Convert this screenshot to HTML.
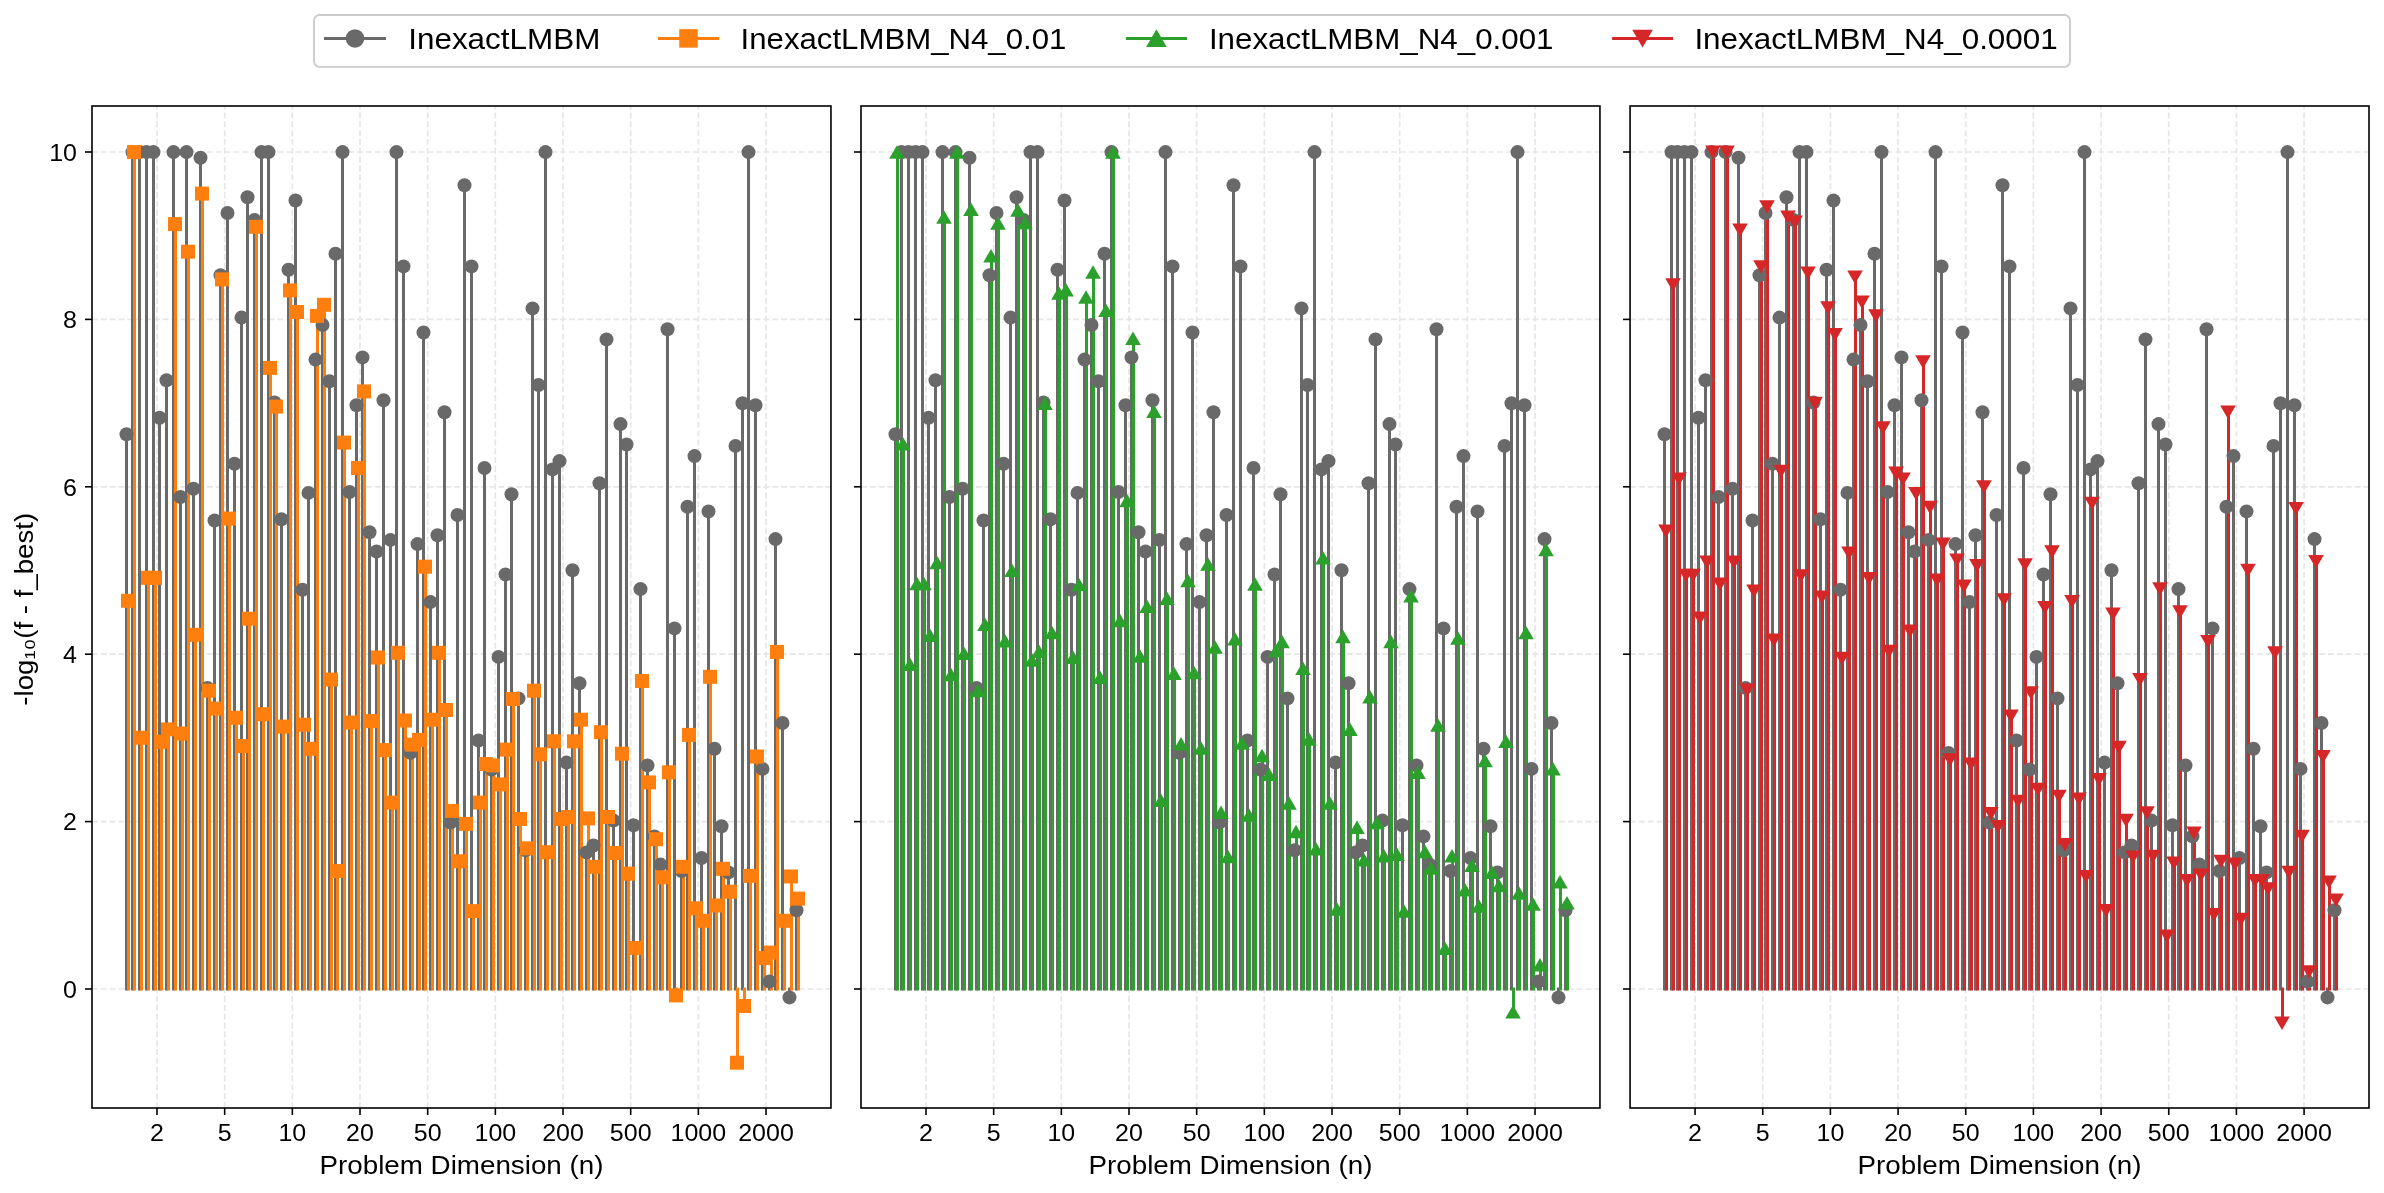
<!DOCTYPE html><html><head><meta charset="utf-8"><style>html,body{margin:0;padding:0;background:#fff;}svg{display:block;will-change:transform;}</style></head><body><svg width="2384" height="1193" viewBox="0 0 2384 1193">
<rect width="2384" height="1193" fill="#ffffff"/>
<clipPath id="c1"><rect x="92.00" y="106.00" width="738.95" height="1002.00"/></clipPath>
<g clip-path="url(#c1)">
<line x1="157.00" y1="1108.00" x2="157.00" y2="106.00" stroke="#e6e6e6" stroke-width="1.7" stroke-dasharray="5.95 2.885"/>
<line x1="224.67" y1="1108.00" x2="224.67" y2="106.00" stroke="#e6e6e6" stroke-width="1.7" stroke-dasharray="5.95 2.885"/>
<line x1="292.34" y1="1108.00" x2="292.34" y2="106.00" stroke="#e6e6e6" stroke-width="1.7" stroke-dasharray="5.95 2.885"/>
<line x1="360.01" y1="1108.00" x2="360.01" y2="106.00" stroke="#e6e6e6" stroke-width="1.7" stroke-dasharray="5.95 2.885"/>
<line x1="427.68" y1="1108.00" x2="427.68" y2="106.00" stroke="#e6e6e6" stroke-width="1.7" stroke-dasharray="5.95 2.885"/>
<line x1="495.35" y1="1108.00" x2="495.35" y2="106.00" stroke="#e6e6e6" stroke-width="1.7" stroke-dasharray="5.95 2.885"/>
<line x1="563.02" y1="1108.00" x2="563.02" y2="106.00" stroke="#e6e6e6" stroke-width="1.7" stroke-dasharray="5.95 2.885"/>
<line x1="630.69" y1="1108.00" x2="630.69" y2="106.00" stroke="#e6e6e6" stroke-width="1.7" stroke-dasharray="5.95 2.885"/>
<line x1="698.36" y1="1108.00" x2="698.36" y2="106.00" stroke="#e6e6e6" stroke-width="1.7" stroke-dasharray="5.95 2.885"/>
<line x1="766.03" y1="1108.00" x2="766.03" y2="106.00" stroke="#e6e6e6" stroke-width="1.7" stroke-dasharray="5.95 2.885"/>
<line x1="92.00" y1="989.00" x2="830.95" y2="989.00" stroke="#e6e6e6" stroke-width="1.7" stroke-dasharray="5.95 2.885"/>
<line x1="92.00" y1="821.60" x2="830.95" y2="821.60" stroke="#e6e6e6" stroke-width="1.7" stroke-dasharray="5.95 2.885"/>
<line x1="92.00" y1="654.20" x2="830.95" y2="654.20" stroke="#e6e6e6" stroke-width="1.7" stroke-dasharray="5.95 2.885"/>
<line x1="92.00" y1="486.80" x2="830.95" y2="486.80" stroke="#e6e6e6" stroke-width="1.7" stroke-dasharray="5.95 2.885"/>
<line x1="92.00" y1="319.40" x2="830.95" y2="319.40" stroke="#e6e6e6" stroke-width="1.7" stroke-dasharray="5.95 2.885"/>
<line x1="92.00" y1="152.00" x2="830.95" y2="152.00" stroke="#e6e6e6" stroke-width="1.7" stroke-dasharray="5.95 2.885"/>
<path d="M126.50 989.00V434.30M132.50 989.00V152.10M139.50 989.00V152.10M146.50 989.00V152.10M153.50 989.00V152.10M159.50 989.00V417.70M166.50 989.00V380.30M173.50 989.00V152.10M180.50 989.00V497.00M186.50 989.00V152.10M193.50 989.00V488.70M200.50 989.00V157.70M207.50 989.00V687.90M214.50 989.00V520.50M220.50 989.00V275.20M227.50 989.00V213.00M234.50 989.00V463.80M241.50 989.00V317.60M247.50 989.00V197.20M254.50 989.00V219.90M261.50 989.00V152.10M268.50 989.00V152.10M274.50 989.00V402.50M281.50 989.00V519.20M288.50 989.00V269.70M295.50 989.00V200.50M302.50 989.00V589.70M308.50 989.00V492.90M315.50 989.00V359.60M322.50 989.00V325.00M329.50 989.00V381.20M335.50 989.00V253.70M342.50 989.00V152.10M349.50 989.00V492.00M356.50 989.00V405.20M362.50 989.00V357.40M369.50 989.00V532.20M376.50 989.00V551.50M383.50 989.00V400.30M390.50 989.00V539.90M396.50 989.00V152.10M403.50 989.00V266.40M410.50 989.00V752.90M417.50 989.00V544.10M423.50 989.00V332.50M430.50 989.00V602.10M437.50 989.00V535.20M444.50 989.00V412.20M450.50 989.00V822.60M457.50 989.00V515.00M464.50 989.00V185.30M471.50 989.00V266.40M478.50 989.00V740.50M484.50 989.00V468.00M491.50 989.00V769.50M498.50 989.00V656.90M505.50 989.00V574.50M511.50 989.00V494.30M518.50 989.00V698.40M525.50 989.00V850.20M532.50 989.00V308.40M538.50 989.00V385.00M545.50 989.00V152.10M552.50 989.00V469.40M559.50 989.00V461.10M566.50 989.00V762.60M572.50 989.00V570.30M579.50 989.00V683.20M586.50 989.00V852.40M593.50 989.00V845.50M599.50 989.00V483.20M606.50 989.00V339.40M613.50 989.00V820.60M620.50 989.00V424.10M626.50 989.00V444.50M633.50 989.00V825.30M640.50 989.00V589.10M647.50 989.00V765.40M654.50 989.00V836.40M660.50 989.00V864.60M667.50 989.00V329.20M674.50 989.00V628.40M681.50 989.00V871.00M687.50 989.00V506.70M694.50 989.00V456.10M701.50 989.00V858.00M708.50 989.00V511.40M714.50 989.00V748.80M721.50 989.00V826.20M728.50 989.00V872.40M735.50 989.00V445.90M742.50 989.00V403.30M748.50 989.00V152.10M755.50 989.00V405.20M762.50 989.00V768.90M769.50 989.00V981.60M775.50 989.00V539.10M782.50 989.00V723.00M789.50 989.00V997.40M796.50 989.00V910.20" stroke="#696969" stroke-width="3.0" fill="none" stroke-linecap="square"/>
<path d="M128.50 989.00V600.80M134.50 989.00V152.10M141.50 989.00V737.70M148.50 989.00V577.80M155.50 989.00V577.80M161.50 989.00V741.80M168.50 989.00V729.40M175.50 989.00V224.10M182.50 989.00V733.50M188.50 989.00V251.70M195.50 989.00V634.80M202.50 989.00V193.60M209.50 989.00V690.70M216.50 989.00V708.60M222.50 989.00V279.40M229.50 989.00V518.60M236.50 989.00V717.80M243.50 989.00V746.00M249.50 989.00V618.70M256.50 989.00V226.80M263.50 989.00V714.20M270.50 989.00V367.90M276.50 989.00V406.60M283.50 989.00V726.60M290.50 989.00V290.40M297.50 989.00V312.00M304.50 989.00V724.70M310.50 989.00V748.80M317.50 989.00V315.90M324.50 989.00V304.80M331.50 989.00V679.60M337.50 989.00V871.00M344.50 989.00V442.60M351.50 989.00V722.50M358.50 989.00V468.00M364.50 989.00V391.40M371.50 989.00V721.10M378.50 989.00V657.50M385.50 989.00V750.10M392.50 989.00V802.60M398.50 989.00V652.80M405.50 989.00V720.50M412.50 989.00V744.60M419.50 989.00V739.90M425.50 989.00V566.70M432.50 989.00V719.70M439.50 989.00V652.80M446.50 989.00V710.00M452.50 989.00V810.90M459.50 989.00V861.30M466.50 989.00V823.90M473.50 989.00V911.10M480.50 989.00V802.60M486.50 989.00V764.00M493.50 989.00V765.40M500.50 989.00V784.40M507.50 989.00V749.60M513.50 989.00V699.00M520.50 989.00V819.00M527.50 989.00V848.30M534.50 989.00V690.70M540.50 989.00V754.30M547.50 989.00V852.20M554.50 989.00V741.30M561.50 989.00V819.00M568.50 989.00V817.00M574.50 989.00V741.30M581.50 989.00V719.70M588.50 989.00V818.40M595.50 989.00V866.80M601.50 989.00V732.20M608.50 989.00V817.00M615.50 989.00V853.00M622.50 989.00V753.70M628.50 989.00V873.70M635.50 989.00V947.90M642.50 989.00V681.00M649.50 989.00V782.40M656.50 989.00V839.20M662.50 989.00V877.30M669.50 989.00V772.30M676.50 989.00V995.40M683.50 989.00V866.80M689.50 989.00V734.90M696.50 989.00V908.30M703.50 989.00V920.80M710.50 989.00V676.80M716.50 989.00V905.50M723.50 989.00V868.80M730.50 989.00V891.70M737.50 989.00V1062.70M744.50 989.00V1006.00M750.50 989.00V875.90M757.50 989.00V756.50M764.50 989.00V958.10M771.50 989.00V952.60M777.50 989.00V651.90M784.50 989.00V920.80M791.50 989.00V876.50M798.50 989.00V898.60" stroke="#ff7f0e" stroke-width="3.0" fill="none" stroke-linecap="square"/>
<circle cx="126.50" cy="434.30" r="7.00" fill="#696969"/>
<circle cx="132.50" cy="152.10" r="7.00" fill="#696969"/>
<circle cx="139.50" cy="152.10" r="7.00" fill="#696969"/>
<circle cx="146.50" cy="152.10" r="7.00" fill="#696969"/>
<circle cx="153.50" cy="152.10" r="7.00" fill="#696969"/>
<circle cx="159.50" cy="417.70" r="7.00" fill="#696969"/>
<circle cx="166.50" cy="380.30" r="7.00" fill="#696969"/>
<circle cx="173.50" cy="152.10" r="7.00" fill="#696969"/>
<circle cx="180.50" cy="497.00" r="7.00" fill="#696969"/>
<circle cx="186.50" cy="152.10" r="7.00" fill="#696969"/>
<circle cx="193.50" cy="488.70" r="7.00" fill="#696969"/>
<circle cx="200.50" cy="157.70" r="7.00" fill="#696969"/>
<circle cx="207.50" cy="687.90" r="7.00" fill="#696969"/>
<circle cx="214.50" cy="520.50" r="7.00" fill="#696969"/>
<circle cx="220.50" cy="275.20" r="7.00" fill="#696969"/>
<circle cx="227.50" cy="213.00" r="7.00" fill="#696969"/>
<circle cx="234.50" cy="463.80" r="7.00" fill="#696969"/>
<circle cx="241.50" cy="317.60" r="7.00" fill="#696969"/>
<circle cx="247.50" cy="197.20" r="7.00" fill="#696969"/>
<circle cx="254.50" cy="219.90" r="7.00" fill="#696969"/>
<circle cx="261.50" cy="152.10" r="7.00" fill="#696969"/>
<circle cx="268.50" cy="152.10" r="7.00" fill="#696969"/>
<circle cx="274.50" cy="402.50" r="7.00" fill="#696969"/>
<circle cx="281.50" cy="519.20" r="7.00" fill="#696969"/>
<circle cx="288.50" cy="269.70" r="7.00" fill="#696969"/>
<circle cx="295.50" cy="200.50" r="7.00" fill="#696969"/>
<circle cx="302.50" cy="589.70" r="7.00" fill="#696969"/>
<circle cx="308.50" cy="492.90" r="7.00" fill="#696969"/>
<circle cx="315.50" cy="359.60" r="7.00" fill="#696969"/>
<circle cx="322.50" cy="325.00" r="7.00" fill="#696969"/>
<circle cx="329.50" cy="381.20" r="7.00" fill="#696969"/>
<circle cx="335.50" cy="253.70" r="7.00" fill="#696969"/>
<circle cx="342.50" cy="152.10" r="7.00" fill="#696969"/>
<circle cx="349.50" cy="492.00" r="7.00" fill="#696969"/>
<circle cx="356.50" cy="405.20" r="7.00" fill="#696969"/>
<circle cx="362.50" cy="357.40" r="7.00" fill="#696969"/>
<circle cx="369.50" cy="532.20" r="7.00" fill="#696969"/>
<circle cx="376.50" cy="551.50" r="7.00" fill="#696969"/>
<circle cx="383.50" cy="400.30" r="7.00" fill="#696969"/>
<circle cx="390.50" cy="539.90" r="7.00" fill="#696969"/>
<circle cx="396.50" cy="152.10" r="7.00" fill="#696969"/>
<circle cx="403.50" cy="266.40" r="7.00" fill="#696969"/>
<circle cx="410.50" cy="752.90" r="7.00" fill="#696969"/>
<circle cx="417.50" cy="544.10" r="7.00" fill="#696969"/>
<circle cx="423.50" cy="332.50" r="7.00" fill="#696969"/>
<circle cx="430.50" cy="602.10" r="7.00" fill="#696969"/>
<circle cx="437.50" cy="535.20" r="7.00" fill="#696969"/>
<circle cx="444.50" cy="412.20" r="7.00" fill="#696969"/>
<circle cx="450.50" cy="822.60" r="7.00" fill="#696969"/>
<circle cx="457.50" cy="515.00" r="7.00" fill="#696969"/>
<circle cx="464.50" cy="185.30" r="7.00" fill="#696969"/>
<circle cx="471.50" cy="266.40" r="7.00" fill="#696969"/>
<circle cx="478.50" cy="740.50" r="7.00" fill="#696969"/>
<circle cx="484.50" cy="468.00" r="7.00" fill="#696969"/>
<circle cx="491.50" cy="769.50" r="7.00" fill="#696969"/>
<circle cx="498.50" cy="656.90" r="7.00" fill="#696969"/>
<circle cx="505.50" cy="574.50" r="7.00" fill="#696969"/>
<circle cx="511.50" cy="494.30" r="7.00" fill="#696969"/>
<circle cx="518.50" cy="698.40" r="7.00" fill="#696969"/>
<circle cx="525.50" cy="850.20" r="7.00" fill="#696969"/>
<circle cx="532.50" cy="308.40" r="7.00" fill="#696969"/>
<circle cx="538.50" cy="385.00" r="7.00" fill="#696969"/>
<circle cx="545.50" cy="152.10" r="7.00" fill="#696969"/>
<circle cx="552.50" cy="469.40" r="7.00" fill="#696969"/>
<circle cx="559.50" cy="461.10" r="7.00" fill="#696969"/>
<circle cx="566.50" cy="762.60" r="7.00" fill="#696969"/>
<circle cx="572.50" cy="570.30" r="7.00" fill="#696969"/>
<circle cx="579.50" cy="683.20" r="7.00" fill="#696969"/>
<circle cx="586.50" cy="852.40" r="7.00" fill="#696969"/>
<circle cx="593.50" cy="845.50" r="7.00" fill="#696969"/>
<circle cx="599.50" cy="483.20" r="7.00" fill="#696969"/>
<circle cx="606.50" cy="339.40" r="7.00" fill="#696969"/>
<circle cx="613.50" cy="820.60" r="7.00" fill="#696969"/>
<circle cx="620.50" cy="424.10" r="7.00" fill="#696969"/>
<circle cx="626.50" cy="444.50" r="7.00" fill="#696969"/>
<circle cx="633.50" cy="825.30" r="7.00" fill="#696969"/>
<circle cx="640.50" cy="589.10" r="7.00" fill="#696969"/>
<circle cx="647.50" cy="765.40" r="7.00" fill="#696969"/>
<circle cx="654.50" cy="836.40" r="7.00" fill="#696969"/>
<circle cx="660.50" cy="864.60" r="7.00" fill="#696969"/>
<circle cx="667.50" cy="329.20" r="7.00" fill="#696969"/>
<circle cx="674.50" cy="628.40" r="7.00" fill="#696969"/>
<circle cx="681.50" cy="871.00" r="7.00" fill="#696969"/>
<circle cx="687.50" cy="506.70" r="7.00" fill="#696969"/>
<circle cx="694.50" cy="456.10" r="7.00" fill="#696969"/>
<circle cx="701.50" cy="858.00" r="7.00" fill="#696969"/>
<circle cx="708.50" cy="511.40" r="7.00" fill="#696969"/>
<circle cx="714.50" cy="748.80" r="7.00" fill="#696969"/>
<circle cx="721.50" cy="826.20" r="7.00" fill="#696969"/>
<circle cx="728.50" cy="872.40" r="7.00" fill="#696969"/>
<circle cx="735.50" cy="445.90" r="7.00" fill="#696969"/>
<circle cx="742.50" cy="403.30" r="7.00" fill="#696969"/>
<circle cx="748.50" cy="152.10" r="7.00" fill="#696969"/>
<circle cx="755.50" cy="405.20" r="7.00" fill="#696969"/>
<circle cx="762.50" cy="768.90" r="7.00" fill="#696969"/>
<circle cx="769.50" cy="981.60" r="7.00" fill="#696969"/>
<circle cx="775.50" cy="539.10" r="7.00" fill="#696969"/>
<circle cx="782.50" cy="723.00" r="7.00" fill="#696969"/>
<circle cx="789.50" cy="997.40" r="7.00" fill="#696969"/>
<circle cx="796.50" cy="910.20" r="7.00" fill="#696969"/>
<rect x="121.00" y="593.80" width="14.00" height="14.00" fill="#ff7f0e"/>
<rect x="127.00" y="145.10" width="14.00" height="14.00" fill="#ff7f0e"/>
<rect x="134.00" y="730.70" width="14.00" height="14.00" fill="#ff7f0e"/>
<rect x="141.00" y="570.80" width="14.00" height="14.00" fill="#ff7f0e"/>
<rect x="148.00" y="570.80" width="14.00" height="14.00" fill="#ff7f0e"/>
<rect x="154.00" y="734.80" width="14.00" height="14.00" fill="#ff7f0e"/>
<rect x="161.00" y="722.40" width="14.00" height="14.00" fill="#ff7f0e"/>
<rect x="168.00" y="217.10" width="14.00" height="14.00" fill="#ff7f0e"/>
<rect x="175.00" y="726.50" width="14.00" height="14.00" fill="#ff7f0e"/>
<rect x="181.00" y="244.70" width="14.00" height="14.00" fill="#ff7f0e"/>
<rect x="188.00" y="627.80" width="14.00" height="14.00" fill="#ff7f0e"/>
<rect x="195.00" y="186.60" width="14.00" height="14.00" fill="#ff7f0e"/>
<rect x="202.00" y="683.70" width="14.00" height="14.00" fill="#ff7f0e"/>
<rect x="209.00" y="701.60" width="14.00" height="14.00" fill="#ff7f0e"/>
<rect x="215.00" y="272.40" width="14.00" height="14.00" fill="#ff7f0e"/>
<rect x="222.00" y="511.60" width="14.00" height="14.00" fill="#ff7f0e"/>
<rect x="229.00" y="710.80" width="14.00" height="14.00" fill="#ff7f0e"/>
<rect x="236.00" y="739.00" width="14.00" height="14.00" fill="#ff7f0e"/>
<rect x="242.00" y="611.70" width="14.00" height="14.00" fill="#ff7f0e"/>
<rect x="249.00" y="219.80" width="14.00" height="14.00" fill="#ff7f0e"/>
<rect x="256.00" y="707.20" width="14.00" height="14.00" fill="#ff7f0e"/>
<rect x="263.00" y="360.90" width="14.00" height="14.00" fill="#ff7f0e"/>
<rect x="269.00" y="399.60" width="14.00" height="14.00" fill="#ff7f0e"/>
<rect x="276.00" y="719.60" width="14.00" height="14.00" fill="#ff7f0e"/>
<rect x="283.00" y="283.40" width="14.00" height="14.00" fill="#ff7f0e"/>
<rect x="290.00" y="305.00" width="14.00" height="14.00" fill="#ff7f0e"/>
<rect x="297.00" y="717.70" width="14.00" height="14.00" fill="#ff7f0e"/>
<rect x="303.00" y="741.80" width="14.00" height="14.00" fill="#ff7f0e"/>
<rect x="310.00" y="308.90" width="14.00" height="14.00" fill="#ff7f0e"/>
<rect x="317.00" y="297.80" width="14.00" height="14.00" fill="#ff7f0e"/>
<rect x="324.00" y="672.60" width="14.00" height="14.00" fill="#ff7f0e"/>
<rect x="330.00" y="864.00" width="14.00" height="14.00" fill="#ff7f0e"/>
<rect x="337.00" y="435.60" width="14.00" height="14.00" fill="#ff7f0e"/>
<rect x="344.00" y="715.50" width="14.00" height="14.00" fill="#ff7f0e"/>
<rect x="351.00" y="461.00" width="14.00" height="14.00" fill="#ff7f0e"/>
<rect x="357.00" y="384.40" width="14.00" height="14.00" fill="#ff7f0e"/>
<rect x="364.00" y="714.10" width="14.00" height="14.00" fill="#ff7f0e"/>
<rect x="371.00" y="650.50" width="14.00" height="14.00" fill="#ff7f0e"/>
<rect x="378.00" y="743.10" width="14.00" height="14.00" fill="#ff7f0e"/>
<rect x="385.00" y="795.60" width="14.00" height="14.00" fill="#ff7f0e"/>
<rect x="391.00" y="645.80" width="14.00" height="14.00" fill="#ff7f0e"/>
<rect x="398.00" y="713.50" width="14.00" height="14.00" fill="#ff7f0e"/>
<rect x="405.00" y="737.60" width="14.00" height="14.00" fill="#ff7f0e"/>
<rect x="412.00" y="732.90" width="14.00" height="14.00" fill="#ff7f0e"/>
<rect x="418.00" y="559.70" width="14.00" height="14.00" fill="#ff7f0e"/>
<rect x="425.00" y="712.70" width="14.00" height="14.00" fill="#ff7f0e"/>
<rect x="432.00" y="645.80" width="14.00" height="14.00" fill="#ff7f0e"/>
<rect x="439.00" y="703.00" width="14.00" height="14.00" fill="#ff7f0e"/>
<rect x="445.00" y="803.90" width="14.00" height="14.00" fill="#ff7f0e"/>
<rect x="452.00" y="854.30" width="14.00" height="14.00" fill="#ff7f0e"/>
<rect x="459.00" y="816.90" width="14.00" height="14.00" fill="#ff7f0e"/>
<rect x="466.00" y="904.10" width="14.00" height="14.00" fill="#ff7f0e"/>
<rect x="473.00" y="795.60" width="14.00" height="14.00" fill="#ff7f0e"/>
<rect x="479.00" y="757.00" width="14.00" height="14.00" fill="#ff7f0e"/>
<rect x="486.00" y="758.40" width="14.00" height="14.00" fill="#ff7f0e"/>
<rect x="493.00" y="777.40" width="14.00" height="14.00" fill="#ff7f0e"/>
<rect x="500.00" y="742.60" width="14.00" height="14.00" fill="#ff7f0e"/>
<rect x="506.00" y="692.00" width="14.00" height="14.00" fill="#ff7f0e"/>
<rect x="513.00" y="812.00" width="14.00" height="14.00" fill="#ff7f0e"/>
<rect x="520.00" y="841.30" width="14.00" height="14.00" fill="#ff7f0e"/>
<rect x="527.00" y="683.70" width="14.00" height="14.00" fill="#ff7f0e"/>
<rect x="533.00" y="747.30" width="14.00" height="14.00" fill="#ff7f0e"/>
<rect x="540.00" y="845.20" width="14.00" height="14.00" fill="#ff7f0e"/>
<rect x="547.00" y="734.30" width="14.00" height="14.00" fill="#ff7f0e"/>
<rect x="554.00" y="812.00" width="14.00" height="14.00" fill="#ff7f0e"/>
<rect x="561.00" y="810.00" width="14.00" height="14.00" fill="#ff7f0e"/>
<rect x="567.00" y="734.30" width="14.00" height="14.00" fill="#ff7f0e"/>
<rect x="574.00" y="712.70" width="14.00" height="14.00" fill="#ff7f0e"/>
<rect x="581.00" y="811.40" width="14.00" height="14.00" fill="#ff7f0e"/>
<rect x="588.00" y="859.80" width="14.00" height="14.00" fill="#ff7f0e"/>
<rect x="594.00" y="725.20" width="14.00" height="14.00" fill="#ff7f0e"/>
<rect x="601.00" y="810.00" width="14.00" height="14.00" fill="#ff7f0e"/>
<rect x="608.00" y="846.00" width="14.00" height="14.00" fill="#ff7f0e"/>
<rect x="615.00" y="746.70" width="14.00" height="14.00" fill="#ff7f0e"/>
<rect x="621.00" y="866.70" width="14.00" height="14.00" fill="#ff7f0e"/>
<rect x="628.00" y="940.90" width="14.00" height="14.00" fill="#ff7f0e"/>
<rect x="635.00" y="674.00" width="14.00" height="14.00" fill="#ff7f0e"/>
<rect x="642.00" y="775.40" width="14.00" height="14.00" fill="#ff7f0e"/>
<rect x="649.00" y="832.20" width="14.00" height="14.00" fill="#ff7f0e"/>
<rect x="655.00" y="870.30" width="14.00" height="14.00" fill="#ff7f0e"/>
<rect x="662.00" y="765.30" width="14.00" height="14.00" fill="#ff7f0e"/>
<rect x="669.00" y="988.40" width="14.00" height="14.00" fill="#ff7f0e"/>
<rect x="676.00" y="859.80" width="14.00" height="14.00" fill="#ff7f0e"/>
<rect x="682.00" y="727.90" width="14.00" height="14.00" fill="#ff7f0e"/>
<rect x="689.00" y="901.30" width="14.00" height="14.00" fill="#ff7f0e"/>
<rect x="696.00" y="913.80" width="14.00" height="14.00" fill="#ff7f0e"/>
<rect x="703.00" y="669.80" width="14.00" height="14.00" fill="#ff7f0e"/>
<rect x="709.00" y="898.50" width="14.00" height="14.00" fill="#ff7f0e"/>
<rect x="716.00" y="861.80" width="14.00" height="14.00" fill="#ff7f0e"/>
<rect x="723.00" y="884.70" width="14.00" height="14.00" fill="#ff7f0e"/>
<rect x="730.00" y="1055.70" width="14.00" height="14.00" fill="#ff7f0e"/>
<rect x="737.00" y="999.00" width="14.00" height="14.00" fill="#ff7f0e"/>
<rect x="743.00" y="868.90" width="14.00" height="14.00" fill="#ff7f0e"/>
<rect x="750.00" y="749.50" width="14.00" height="14.00" fill="#ff7f0e"/>
<rect x="757.00" y="951.10" width="14.00" height="14.00" fill="#ff7f0e"/>
<rect x="764.00" y="945.60" width="14.00" height="14.00" fill="#ff7f0e"/>
<rect x="770.00" y="644.90" width="14.00" height="14.00" fill="#ff7f0e"/>
<rect x="777.00" y="913.80" width="14.00" height="14.00" fill="#ff7f0e"/>
<rect x="784.00" y="869.50" width="14.00" height="14.00" fill="#ff7f0e"/>
<rect x="791.00" y="891.60" width="14.00" height="14.00" fill="#ff7f0e"/>
</g>
<rect x="92.00" y="106.00" width="738.95" height="1002.00" fill="none" stroke="#000" stroke-width="1.6"/>
<line x1="157.00" y1="1108.00" x2="157.00" y2="1115.00" stroke="#000" stroke-width="1.6"/>
<line x1="224.67" y1="1108.00" x2="224.67" y2="1115.00" stroke="#000" stroke-width="1.6"/>
<line x1="292.34" y1="1108.00" x2="292.34" y2="1115.00" stroke="#000" stroke-width="1.6"/>
<line x1="360.01" y1="1108.00" x2="360.01" y2="1115.00" stroke="#000" stroke-width="1.6"/>
<line x1="427.68" y1="1108.00" x2="427.68" y2="1115.00" stroke="#000" stroke-width="1.6"/>
<line x1="495.35" y1="1108.00" x2="495.35" y2="1115.00" stroke="#000" stroke-width="1.6"/>
<line x1="563.02" y1="1108.00" x2="563.02" y2="1115.00" stroke="#000" stroke-width="1.6"/>
<line x1="630.69" y1="1108.00" x2="630.69" y2="1115.00" stroke="#000" stroke-width="1.6"/>
<line x1="698.36" y1="1108.00" x2="698.36" y2="1115.00" stroke="#000" stroke-width="1.6"/>
<line x1="766.03" y1="1108.00" x2="766.03" y2="1115.00" stroke="#000" stroke-width="1.6"/>
<line x1="92.00" y1="989.00" x2="85.00" y2="989.00" stroke="#000" stroke-width="1.6"/>
<line x1="92.00" y1="821.60" x2="85.00" y2="821.60" stroke="#000" stroke-width="1.6"/>
<line x1="92.00" y1="654.20" x2="85.00" y2="654.20" stroke="#000" stroke-width="1.6"/>
<line x1="92.00" y1="486.80" x2="85.00" y2="486.80" stroke="#000" stroke-width="1.6"/>
<line x1="92.00" y1="319.40" x2="85.00" y2="319.40" stroke="#000" stroke-width="1.6"/>
<line x1="92.00" y1="152.00" x2="85.00" y2="152.00" stroke="#000" stroke-width="1.6"/>
<text x="157.00" y="1141" font-family="Liberation Sans, sans-serif" font-size="23" text-anchor="middle" fill="#000" textLength="13.9" lengthAdjust="spacingAndGlyphs">2</text>
<text x="224.67" y="1141" font-family="Liberation Sans, sans-serif" font-size="23" text-anchor="middle" fill="#000" textLength="13.9" lengthAdjust="spacingAndGlyphs">5</text>
<text x="292.34" y="1141" font-family="Liberation Sans, sans-serif" font-size="23" text-anchor="middle" fill="#000" textLength="27.8" lengthAdjust="spacingAndGlyphs">10</text>
<text x="360.01" y="1141" font-family="Liberation Sans, sans-serif" font-size="23" text-anchor="middle" fill="#000" textLength="27.8" lengthAdjust="spacingAndGlyphs">20</text>
<text x="427.68" y="1141" font-family="Liberation Sans, sans-serif" font-size="23" text-anchor="middle" fill="#000" textLength="27.8" lengthAdjust="spacingAndGlyphs">50</text>
<text x="495.35" y="1141" font-family="Liberation Sans, sans-serif" font-size="23" text-anchor="middle" fill="#000" textLength="41.7" lengthAdjust="spacingAndGlyphs">100</text>
<text x="563.02" y="1141" font-family="Liberation Sans, sans-serif" font-size="23" text-anchor="middle" fill="#000" textLength="41.7" lengthAdjust="spacingAndGlyphs">200</text>
<text x="630.69" y="1141" font-family="Liberation Sans, sans-serif" font-size="23" text-anchor="middle" fill="#000" textLength="41.7" lengthAdjust="spacingAndGlyphs">500</text>
<text x="698.36" y="1141" font-family="Liberation Sans, sans-serif" font-size="23" text-anchor="middle" fill="#000" textLength="55.6" lengthAdjust="spacingAndGlyphs">1000</text>
<text x="766.03" y="1141" font-family="Liberation Sans, sans-serif" font-size="23" text-anchor="middle" fill="#000" textLength="55.6" lengthAdjust="spacingAndGlyphs">2000</text>
<text x="461.48" y="1174.2" font-family="Liberation Sans, sans-serif" font-size="25.5" text-anchor="middle" fill="#000" textLength="284" lengthAdjust="spacingAndGlyphs">Problem Dimension (n)</text>
<clipPath id="c2"><rect x="861.00" y="106.00" width="738.95" height="1002.00"/></clipPath>
<g clip-path="url(#c2)">
<line x1="926.00" y1="1108.00" x2="926.00" y2="106.00" stroke="#e6e6e6" stroke-width="1.7" stroke-dasharray="5.95 2.885"/>
<line x1="993.67" y1="1108.00" x2="993.67" y2="106.00" stroke="#e6e6e6" stroke-width="1.7" stroke-dasharray="5.95 2.885"/>
<line x1="1061.34" y1="1108.00" x2="1061.34" y2="106.00" stroke="#e6e6e6" stroke-width="1.7" stroke-dasharray="5.95 2.885"/>
<line x1="1129.01" y1="1108.00" x2="1129.01" y2="106.00" stroke="#e6e6e6" stroke-width="1.7" stroke-dasharray="5.95 2.885"/>
<line x1="1196.68" y1="1108.00" x2="1196.68" y2="106.00" stroke="#e6e6e6" stroke-width="1.7" stroke-dasharray="5.95 2.885"/>
<line x1="1264.35" y1="1108.00" x2="1264.35" y2="106.00" stroke="#e6e6e6" stroke-width="1.7" stroke-dasharray="5.95 2.885"/>
<line x1="1332.02" y1="1108.00" x2="1332.02" y2="106.00" stroke="#e6e6e6" stroke-width="1.7" stroke-dasharray="5.95 2.885"/>
<line x1="1399.69" y1="1108.00" x2="1399.69" y2="106.00" stroke="#e6e6e6" stroke-width="1.7" stroke-dasharray="5.95 2.885"/>
<line x1="1467.36" y1="1108.00" x2="1467.36" y2="106.00" stroke="#e6e6e6" stroke-width="1.7" stroke-dasharray="5.95 2.885"/>
<line x1="1535.03" y1="1108.00" x2="1535.03" y2="106.00" stroke="#e6e6e6" stroke-width="1.7" stroke-dasharray="5.95 2.885"/>
<line x1="861.00" y1="989.00" x2="1599.95" y2="989.00" stroke="#e6e6e6" stroke-width="1.7" stroke-dasharray="5.95 2.885"/>
<line x1="861.00" y1="821.60" x2="1599.95" y2="821.60" stroke="#e6e6e6" stroke-width="1.7" stroke-dasharray="5.95 2.885"/>
<line x1="861.00" y1="654.20" x2="1599.95" y2="654.20" stroke="#e6e6e6" stroke-width="1.7" stroke-dasharray="5.95 2.885"/>
<line x1="861.00" y1="486.80" x2="1599.95" y2="486.80" stroke="#e6e6e6" stroke-width="1.7" stroke-dasharray="5.95 2.885"/>
<line x1="861.00" y1="319.40" x2="1599.95" y2="319.40" stroke="#e6e6e6" stroke-width="1.7" stroke-dasharray="5.95 2.885"/>
<line x1="861.00" y1="152.00" x2="1599.95" y2="152.00" stroke="#e6e6e6" stroke-width="1.7" stroke-dasharray="5.95 2.885"/>
<path d="M895.50 989.00V434.30M901.50 989.00V152.10M908.50 989.00V152.10M915.50 989.00V152.10M922.50 989.00V152.10M928.50 989.00V417.70M935.50 989.00V380.30M942.50 989.00V152.10M949.50 989.00V497.00M955.50 989.00V152.10M962.50 989.00V488.70M969.50 989.00V157.70M976.50 989.00V687.90M983.50 989.00V520.50M989.50 989.00V275.20M996.50 989.00V213.00M1003.50 989.00V463.80M1010.50 989.00V317.60M1016.50 989.00V197.20M1023.50 989.00V219.90M1030.50 989.00V152.10M1037.50 989.00V152.10M1043.50 989.00V402.50M1050.50 989.00V519.20M1057.50 989.00V269.70M1064.50 989.00V200.50M1071.50 989.00V589.70M1077.50 989.00V492.90M1084.50 989.00V359.60M1091.50 989.00V325.00M1098.50 989.00V381.20M1104.50 989.00V253.70M1111.50 989.00V152.10M1118.50 989.00V492.00M1125.50 989.00V405.20M1131.50 989.00V357.40M1138.50 989.00V532.20M1145.50 989.00V551.50M1152.50 989.00V400.30M1159.50 989.00V539.90M1165.50 989.00V152.10M1172.50 989.00V266.40M1179.50 989.00V752.90M1186.50 989.00V544.10M1192.50 989.00V332.50M1199.50 989.00V602.10M1206.50 989.00V535.20M1213.50 989.00V412.20M1219.50 989.00V822.60M1226.50 989.00V515.00M1233.50 989.00V185.30M1240.50 989.00V266.40M1247.50 989.00V740.50M1253.50 989.00V468.00M1260.50 989.00V769.50M1267.50 989.00V656.90M1274.50 989.00V574.50M1280.50 989.00V494.30M1287.50 989.00V698.40M1294.50 989.00V850.20M1301.50 989.00V308.40M1307.50 989.00V385.00M1314.50 989.00V152.10M1321.50 989.00V469.40M1328.50 989.00V461.10M1335.50 989.00V762.60M1341.50 989.00V570.30M1348.50 989.00V683.20M1355.50 989.00V852.40M1362.50 989.00V845.50M1368.50 989.00V483.20M1375.50 989.00V339.40M1382.50 989.00V820.60M1389.50 989.00V424.10M1395.50 989.00V444.50M1402.50 989.00V825.30M1409.50 989.00V589.10M1416.50 989.00V765.40M1423.50 989.00V836.40M1429.50 989.00V864.60M1436.50 989.00V329.20M1443.50 989.00V628.40M1450.50 989.00V871.00M1456.50 989.00V506.70M1463.50 989.00V456.10M1470.50 989.00V858.00M1477.50 989.00V511.40M1483.50 989.00V748.80M1490.50 989.00V826.20M1497.50 989.00V872.40M1504.50 989.00V445.90M1511.50 989.00V403.30M1517.50 989.00V152.10M1524.50 989.00V405.20M1531.50 989.00V768.90M1538.50 989.00V981.60M1544.50 989.00V539.10M1551.50 989.00V723.00M1558.50 989.00V997.40M1565.50 989.00V910.20" stroke="#696969" stroke-width="3.0" fill="none" stroke-linecap="square"/>
<path d="M897.50 989.00V152.10M903.50 989.00V444.00M910.50 989.00V664.40M917.50 989.00V583.60M924.50 989.00V583.60M930.50 989.00V635.30M937.50 989.00V562.60M944.50 989.00V217.10M951.50 989.00V674.60M957.50 989.00V152.10M964.50 989.00V653.30M971.50 989.00V209.40M978.50 989.00V690.70M985.50 989.00V624.30M991.50 989.00V255.90M998.50 989.00V223.20M1005.50 989.00V640.90M1012.50 989.00V570.30M1018.50 989.00V210.20M1025.50 989.00V222.70M1032.50 989.00V660.20M1039.50 989.00V651.40M1045.50 989.00V403.30M1052.50 989.00V632.60M1059.50 989.00V293.20M1066.50 989.00V289.90M1073.50 989.00V657.50M1079.50 989.00V584.70M1086.50 989.00V297.10M1093.50 989.00V272.20M1100.50 989.00V677.40M1106.50 989.00V310.40M1113.50 989.00V152.10M1120.50 989.00V620.70M1127.50 989.00V500.60M1133.50 989.00V338.30M1140.50 989.00V656.10M1147.50 989.00V606.30M1154.50 989.00V411.30M1161.50 989.00V800.40M1167.50 989.00V598.50M1174.50 989.00V673.50M1181.50 989.00V743.80M1188.50 989.00V580.60M1194.50 989.00V672.70M1201.50 989.00V748.20M1208.50 989.00V564.20M1215.50 989.00V647.20M1221.50 989.00V812.30M1228.50 989.00V856.60M1235.50 989.00V638.80M1242.50 989.00V743.20M1249.50 989.00V815.10M1255.50 989.00V584.20M1262.50 989.00V755.70M1269.50 989.00V774.50M1276.50 989.00V650.60M1282.50 989.00V641.70M1289.50 989.00V803.20M1296.50 989.00V831.70M1303.50 989.00V668.50M1309.50 989.00V739.10M1316.50 989.00V848.80M1323.50 989.00V557.90M1330.50 989.00V803.20M1337.50 989.00V909.10M1343.50 989.00V636.70M1350.50 989.00V729.40M1357.50 989.00V827.30M1364.50 989.00V859.90M1370.50 989.00V697.00M1377.50 989.00V822.60M1384.50 989.00V855.80M1391.50 989.00V641.70M1397.50 989.00V854.40M1404.50 989.00V911.10M1411.50 989.00V595.80M1418.50 989.00V772.30M1425.50 989.00V851.60M1431.50 989.00V868.20M1438.50 989.00V725.20M1445.50 989.00V948.40M1452.50 989.00V855.80M1458.50 989.00V638.10M1465.50 989.00V889.80M1472.50 989.00V865.40M1479.50 989.00V906.10M1485.50 989.00V760.70M1492.50 989.00V872.40M1499.50 989.00V885.60M1506.50 989.00V741.30M1513.50 989.00V1012.00M1519.50 989.00V893.10M1526.50 989.00V632.60M1533.50 989.00V904.20M1540.50 989.00V965.00M1546.50 989.00V549.60M1553.50 989.00V768.90M1560.50 989.00V882.00M1567.50 989.00V902.80" stroke="#2ca02c" stroke-width="3.0" fill="none" stroke-linecap="square"/>
<circle cx="895.50" cy="434.30" r="7.00" fill="#696969"/>
<circle cx="901.50" cy="152.10" r="7.00" fill="#696969"/>
<circle cx="908.50" cy="152.10" r="7.00" fill="#696969"/>
<circle cx="915.50" cy="152.10" r="7.00" fill="#696969"/>
<circle cx="922.50" cy="152.10" r="7.00" fill="#696969"/>
<circle cx="928.50" cy="417.70" r="7.00" fill="#696969"/>
<circle cx="935.50" cy="380.30" r="7.00" fill="#696969"/>
<circle cx="942.50" cy="152.10" r="7.00" fill="#696969"/>
<circle cx="949.50" cy="497.00" r="7.00" fill="#696969"/>
<circle cx="955.50" cy="152.10" r="7.00" fill="#696969"/>
<circle cx="962.50" cy="488.70" r="7.00" fill="#696969"/>
<circle cx="969.50" cy="157.70" r="7.00" fill="#696969"/>
<circle cx="976.50" cy="687.90" r="7.00" fill="#696969"/>
<circle cx="983.50" cy="520.50" r="7.00" fill="#696969"/>
<circle cx="989.50" cy="275.20" r="7.00" fill="#696969"/>
<circle cx="996.50" cy="213.00" r="7.00" fill="#696969"/>
<circle cx="1003.50" cy="463.80" r="7.00" fill="#696969"/>
<circle cx="1010.50" cy="317.60" r="7.00" fill="#696969"/>
<circle cx="1016.50" cy="197.20" r="7.00" fill="#696969"/>
<circle cx="1023.50" cy="219.90" r="7.00" fill="#696969"/>
<circle cx="1030.50" cy="152.10" r="7.00" fill="#696969"/>
<circle cx="1037.50" cy="152.10" r="7.00" fill="#696969"/>
<circle cx="1043.50" cy="402.50" r="7.00" fill="#696969"/>
<circle cx="1050.50" cy="519.20" r="7.00" fill="#696969"/>
<circle cx="1057.50" cy="269.70" r="7.00" fill="#696969"/>
<circle cx="1064.50" cy="200.50" r="7.00" fill="#696969"/>
<circle cx="1071.50" cy="589.70" r="7.00" fill="#696969"/>
<circle cx="1077.50" cy="492.90" r="7.00" fill="#696969"/>
<circle cx="1084.50" cy="359.60" r="7.00" fill="#696969"/>
<circle cx="1091.50" cy="325.00" r="7.00" fill="#696969"/>
<circle cx="1098.50" cy="381.20" r="7.00" fill="#696969"/>
<circle cx="1104.50" cy="253.70" r="7.00" fill="#696969"/>
<circle cx="1111.50" cy="152.10" r="7.00" fill="#696969"/>
<circle cx="1118.50" cy="492.00" r="7.00" fill="#696969"/>
<circle cx="1125.50" cy="405.20" r="7.00" fill="#696969"/>
<circle cx="1131.50" cy="357.40" r="7.00" fill="#696969"/>
<circle cx="1138.50" cy="532.20" r="7.00" fill="#696969"/>
<circle cx="1145.50" cy="551.50" r="7.00" fill="#696969"/>
<circle cx="1152.50" cy="400.30" r="7.00" fill="#696969"/>
<circle cx="1159.50" cy="539.90" r="7.00" fill="#696969"/>
<circle cx="1165.50" cy="152.10" r="7.00" fill="#696969"/>
<circle cx="1172.50" cy="266.40" r="7.00" fill="#696969"/>
<circle cx="1179.50" cy="752.90" r="7.00" fill="#696969"/>
<circle cx="1186.50" cy="544.10" r="7.00" fill="#696969"/>
<circle cx="1192.50" cy="332.50" r="7.00" fill="#696969"/>
<circle cx="1199.50" cy="602.10" r="7.00" fill="#696969"/>
<circle cx="1206.50" cy="535.20" r="7.00" fill="#696969"/>
<circle cx="1213.50" cy="412.20" r="7.00" fill="#696969"/>
<circle cx="1219.50" cy="822.60" r="7.00" fill="#696969"/>
<circle cx="1226.50" cy="515.00" r="7.00" fill="#696969"/>
<circle cx="1233.50" cy="185.30" r="7.00" fill="#696969"/>
<circle cx="1240.50" cy="266.40" r="7.00" fill="#696969"/>
<circle cx="1247.50" cy="740.50" r="7.00" fill="#696969"/>
<circle cx="1253.50" cy="468.00" r="7.00" fill="#696969"/>
<circle cx="1260.50" cy="769.50" r="7.00" fill="#696969"/>
<circle cx="1267.50" cy="656.90" r="7.00" fill="#696969"/>
<circle cx="1274.50" cy="574.50" r="7.00" fill="#696969"/>
<circle cx="1280.50" cy="494.30" r="7.00" fill="#696969"/>
<circle cx="1287.50" cy="698.40" r="7.00" fill="#696969"/>
<circle cx="1294.50" cy="850.20" r="7.00" fill="#696969"/>
<circle cx="1301.50" cy="308.40" r="7.00" fill="#696969"/>
<circle cx="1307.50" cy="385.00" r="7.00" fill="#696969"/>
<circle cx="1314.50" cy="152.10" r="7.00" fill="#696969"/>
<circle cx="1321.50" cy="469.40" r="7.00" fill="#696969"/>
<circle cx="1328.50" cy="461.10" r="7.00" fill="#696969"/>
<circle cx="1335.50" cy="762.60" r="7.00" fill="#696969"/>
<circle cx="1341.50" cy="570.30" r="7.00" fill="#696969"/>
<circle cx="1348.50" cy="683.20" r="7.00" fill="#696969"/>
<circle cx="1355.50" cy="852.40" r="7.00" fill="#696969"/>
<circle cx="1362.50" cy="845.50" r="7.00" fill="#696969"/>
<circle cx="1368.50" cy="483.20" r="7.00" fill="#696969"/>
<circle cx="1375.50" cy="339.40" r="7.00" fill="#696969"/>
<circle cx="1382.50" cy="820.60" r="7.00" fill="#696969"/>
<circle cx="1389.50" cy="424.10" r="7.00" fill="#696969"/>
<circle cx="1395.50" cy="444.50" r="7.00" fill="#696969"/>
<circle cx="1402.50" cy="825.30" r="7.00" fill="#696969"/>
<circle cx="1409.50" cy="589.10" r="7.00" fill="#696969"/>
<circle cx="1416.50" cy="765.40" r="7.00" fill="#696969"/>
<circle cx="1423.50" cy="836.40" r="7.00" fill="#696969"/>
<circle cx="1429.50" cy="864.60" r="7.00" fill="#696969"/>
<circle cx="1436.50" cy="329.20" r="7.00" fill="#696969"/>
<circle cx="1443.50" cy="628.40" r="7.00" fill="#696969"/>
<circle cx="1450.50" cy="871.00" r="7.00" fill="#696969"/>
<circle cx="1456.50" cy="506.70" r="7.00" fill="#696969"/>
<circle cx="1463.50" cy="456.10" r="7.00" fill="#696969"/>
<circle cx="1470.50" cy="858.00" r="7.00" fill="#696969"/>
<circle cx="1477.50" cy="511.40" r="7.00" fill="#696969"/>
<circle cx="1483.50" cy="748.80" r="7.00" fill="#696969"/>
<circle cx="1490.50" cy="826.20" r="7.00" fill="#696969"/>
<circle cx="1497.50" cy="872.40" r="7.00" fill="#696969"/>
<circle cx="1504.50" cy="445.90" r="7.00" fill="#696969"/>
<circle cx="1511.50" cy="403.30" r="7.00" fill="#696969"/>
<circle cx="1517.50" cy="152.10" r="7.00" fill="#696969"/>
<circle cx="1524.50" cy="405.20" r="7.00" fill="#696969"/>
<circle cx="1531.50" cy="768.90" r="7.00" fill="#696969"/>
<circle cx="1538.50" cy="981.60" r="7.00" fill="#696969"/>
<circle cx="1544.50" cy="539.10" r="7.00" fill="#696969"/>
<circle cx="1551.50" cy="723.00" r="7.00" fill="#696969"/>
<circle cx="1558.50" cy="997.40" r="7.00" fill="#696969"/>
<circle cx="1565.50" cy="910.20" r="7.00" fill="#696969"/>
<path d="M897.00 145.20L904.80 158.70L889.20 158.70Z" fill="#2ca02c"/>
<path d="M903.00 437.10L910.80 450.60L895.20 450.60Z" fill="#2ca02c"/>
<path d="M910.00 657.50L917.80 671.00L902.20 671.00Z" fill="#2ca02c"/>
<path d="M917.00 576.70L924.80 590.20L909.20 590.20Z" fill="#2ca02c"/>
<path d="M924.00 576.70L931.80 590.20L916.20 590.20Z" fill="#2ca02c"/>
<path d="M930.00 628.40L937.80 641.90L922.20 641.90Z" fill="#2ca02c"/>
<path d="M937.00 555.70L944.80 569.20L929.20 569.20Z" fill="#2ca02c"/>
<path d="M944.00 210.20L951.80 223.70L936.20 223.70Z" fill="#2ca02c"/>
<path d="M951.00 667.70L958.80 681.20L943.20 681.20Z" fill="#2ca02c"/>
<path d="M957.00 145.20L964.80 158.70L949.20 158.70Z" fill="#2ca02c"/>
<path d="M964.00 646.40L971.80 659.90L956.20 659.90Z" fill="#2ca02c"/>
<path d="M971.00 202.50L978.80 216.00L963.20 216.00Z" fill="#2ca02c"/>
<path d="M978.00 683.80L985.80 697.30L970.20 697.30Z" fill="#2ca02c"/>
<path d="M985.00 617.40L992.80 630.90L977.20 630.90Z" fill="#2ca02c"/>
<path d="M991.00 249.00L998.80 262.50L983.20 262.50Z" fill="#2ca02c"/>
<path d="M998.00 216.30L1005.80 229.80L990.20 229.80Z" fill="#2ca02c"/>
<path d="M1005.00 634.00L1012.80 647.50L997.20 647.50Z" fill="#2ca02c"/>
<path d="M1012.00 563.40L1019.80 576.90L1004.20 576.90Z" fill="#2ca02c"/>
<path d="M1018.00 203.30L1025.80 216.80L1010.20 216.80Z" fill="#2ca02c"/>
<path d="M1025.00 215.80L1032.80 229.30L1017.20 229.30Z" fill="#2ca02c"/>
<path d="M1032.00 653.30L1039.80 666.80L1024.20 666.80Z" fill="#2ca02c"/>
<path d="M1039.00 644.50L1046.80 658.00L1031.20 658.00Z" fill="#2ca02c"/>
<path d="M1045.00 396.40L1052.80 409.90L1037.20 409.90Z" fill="#2ca02c"/>
<path d="M1052.00 625.70L1059.80 639.20L1044.20 639.20Z" fill="#2ca02c"/>
<path d="M1059.00 286.30L1066.80 299.80L1051.20 299.80Z" fill="#2ca02c"/>
<path d="M1066.00 283.00L1073.80 296.50L1058.20 296.50Z" fill="#2ca02c"/>
<path d="M1073.00 650.60L1080.80 664.10L1065.20 664.10Z" fill="#2ca02c"/>
<path d="M1079.00 577.80L1086.80 591.30L1071.20 591.30Z" fill="#2ca02c"/>
<path d="M1086.00 290.20L1093.80 303.70L1078.20 303.70Z" fill="#2ca02c"/>
<path d="M1093.00 265.30L1100.80 278.80L1085.20 278.80Z" fill="#2ca02c"/>
<path d="M1100.00 670.50L1107.80 684.00L1092.20 684.00Z" fill="#2ca02c"/>
<path d="M1106.00 303.50L1113.80 317.00L1098.20 317.00Z" fill="#2ca02c"/>
<path d="M1113.00 145.20L1120.80 158.70L1105.20 158.70Z" fill="#2ca02c"/>
<path d="M1120.00 613.80L1127.80 627.30L1112.20 627.30Z" fill="#2ca02c"/>
<path d="M1127.00 493.70L1134.80 507.20L1119.20 507.20Z" fill="#2ca02c"/>
<path d="M1133.00 331.40L1140.80 344.90L1125.20 344.90Z" fill="#2ca02c"/>
<path d="M1140.00 649.20L1147.80 662.70L1132.20 662.70Z" fill="#2ca02c"/>
<path d="M1147.00 599.40L1154.80 612.90L1139.20 612.90Z" fill="#2ca02c"/>
<path d="M1154.00 404.40L1161.80 417.90L1146.20 417.90Z" fill="#2ca02c"/>
<path d="M1161.00 793.50L1168.80 807.00L1153.20 807.00Z" fill="#2ca02c"/>
<path d="M1167.00 591.60L1174.80 605.10L1159.20 605.10Z" fill="#2ca02c"/>
<path d="M1174.00 666.60L1181.80 680.10L1166.20 680.10Z" fill="#2ca02c"/>
<path d="M1181.00 736.90L1188.80 750.40L1173.20 750.40Z" fill="#2ca02c"/>
<path d="M1188.00 573.70L1195.80 587.20L1180.20 587.20Z" fill="#2ca02c"/>
<path d="M1194.00 665.80L1201.80 679.30L1186.20 679.30Z" fill="#2ca02c"/>
<path d="M1201.00 741.30L1208.80 754.80L1193.20 754.80Z" fill="#2ca02c"/>
<path d="M1208.00 557.30L1215.80 570.80L1200.20 570.80Z" fill="#2ca02c"/>
<path d="M1215.00 640.30L1222.80 653.80L1207.20 653.80Z" fill="#2ca02c"/>
<path d="M1221.00 805.40L1228.80 818.90L1213.20 818.90Z" fill="#2ca02c"/>
<path d="M1228.00 849.70L1235.80 863.20L1220.20 863.20Z" fill="#2ca02c"/>
<path d="M1235.00 631.90L1242.80 645.40L1227.20 645.40Z" fill="#2ca02c"/>
<path d="M1242.00 736.30L1249.80 749.80L1234.20 749.80Z" fill="#2ca02c"/>
<path d="M1249.00 808.20L1256.80 821.70L1241.20 821.70Z" fill="#2ca02c"/>
<path d="M1255.00 577.30L1262.80 590.80L1247.20 590.80Z" fill="#2ca02c"/>
<path d="M1262.00 748.80L1269.80 762.30L1254.20 762.30Z" fill="#2ca02c"/>
<path d="M1269.00 767.60L1276.80 781.10L1261.20 781.10Z" fill="#2ca02c"/>
<path d="M1276.00 643.70L1283.80 657.20L1268.20 657.20Z" fill="#2ca02c"/>
<path d="M1282.00 634.80L1289.80 648.30L1274.20 648.30Z" fill="#2ca02c"/>
<path d="M1289.00 796.30L1296.80 809.80L1281.20 809.80Z" fill="#2ca02c"/>
<path d="M1296.00 824.80L1303.80 838.30L1288.20 838.30Z" fill="#2ca02c"/>
<path d="M1303.00 661.60L1310.80 675.10L1295.20 675.10Z" fill="#2ca02c"/>
<path d="M1309.00 732.20L1316.80 745.70L1301.20 745.70Z" fill="#2ca02c"/>
<path d="M1316.00 841.90L1323.80 855.40L1308.20 855.40Z" fill="#2ca02c"/>
<path d="M1323.00 551.00L1330.80 564.50L1315.20 564.50Z" fill="#2ca02c"/>
<path d="M1330.00 796.30L1337.80 809.80L1322.20 809.80Z" fill="#2ca02c"/>
<path d="M1337.00 902.20L1344.80 915.70L1329.20 915.70Z" fill="#2ca02c"/>
<path d="M1343.00 629.80L1350.80 643.30L1335.20 643.30Z" fill="#2ca02c"/>
<path d="M1350.00 722.50L1357.80 736.00L1342.20 736.00Z" fill="#2ca02c"/>
<path d="M1357.00 820.40L1364.80 833.90L1349.20 833.90Z" fill="#2ca02c"/>
<path d="M1364.00 853.00L1371.80 866.50L1356.20 866.50Z" fill="#2ca02c"/>
<path d="M1370.00 690.10L1377.80 703.60L1362.20 703.60Z" fill="#2ca02c"/>
<path d="M1377.00 815.70L1384.80 829.20L1369.20 829.20Z" fill="#2ca02c"/>
<path d="M1384.00 848.90L1391.80 862.40L1376.20 862.40Z" fill="#2ca02c"/>
<path d="M1391.00 634.80L1398.80 648.30L1383.20 648.30Z" fill="#2ca02c"/>
<path d="M1397.00 847.50L1404.80 861.00L1389.20 861.00Z" fill="#2ca02c"/>
<path d="M1404.00 904.20L1411.80 917.70L1396.20 917.70Z" fill="#2ca02c"/>
<path d="M1411.00 588.90L1418.80 602.40L1403.20 602.40Z" fill="#2ca02c"/>
<path d="M1418.00 765.40L1425.80 778.90L1410.20 778.90Z" fill="#2ca02c"/>
<path d="M1425.00 844.70L1432.80 858.20L1417.20 858.20Z" fill="#2ca02c"/>
<path d="M1431.00 861.30L1438.80 874.80L1423.20 874.80Z" fill="#2ca02c"/>
<path d="M1438.00 718.30L1445.80 731.80L1430.20 731.80Z" fill="#2ca02c"/>
<path d="M1445.00 941.50L1452.80 955.00L1437.20 955.00Z" fill="#2ca02c"/>
<path d="M1452.00 848.90L1459.80 862.40L1444.20 862.40Z" fill="#2ca02c"/>
<path d="M1458.00 631.20L1465.80 644.70L1450.20 644.70Z" fill="#2ca02c"/>
<path d="M1465.00 882.90L1472.80 896.40L1457.20 896.40Z" fill="#2ca02c"/>
<path d="M1472.00 858.50L1479.80 872.00L1464.20 872.00Z" fill="#2ca02c"/>
<path d="M1479.00 899.20L1486.80 912.70L1471.20 912.70Z" fill="#2ca02c"/>
<path d="M1485.00 753.80L1492.80 767.30L1477.20 767.30Z" fill="#2ca02c"/>
<path d="M1492.00 865.50L1499.80 879.00L1484.20 879.00Z" fill="#2ca02c"/>
<path d="M1499.00 878.70L1506.80 892.20L1491.20 892.20Z" fill="#2ca02c"/>
<path d="M1506.00 734.40L1513.80 747.90L1498.20 747.90Z" fill="#2ca02c"/>
<path d="M1513.00 1005.10L1520.80 1018.60L1505.20 1018.60Z" fill="#2ca02c"/>
<path d="M1519.00 886.20L1526.80 899.70L1511.20 899.70Z" fill="#2ca02c"/>
<path d="M1526.00 625.70L1533.80 639.20L1518.20 639.20Z" fill="#2ca02c"/>
<path d="M1533.00 897.30L1540.80 910.80L1525.20 910.80Z" fill="#2ca02c"/>
<path d="M1540.00 958.10L1547.80 971.60L1532.20 971.60Z" fill="#2ca02c"/>
<path d="M1546.00 542.70L1553.80 556.20L1538.20 556.20Z" fill="#2ca02c"/>
<path d="M1553.00 762.00L1560.80 775.50L1545.20 775.50Z" fill="#2ca02c"/>
<path d="M1560.00 875.10L1567.80 888.60L1552.20 888.60Z" fill="#2ca02c"/>
<path d="M1567.00 895.90L1574.80 909.40L1559.20 909.40Z" fill="#2ca02c"/>
</g>
<rect x="861.00" y="106.00" width="738.95" height="1002.00" fill="none" stroke="#000" stroke-width="1.6"/>
<line x1="926.00" y1="1108.00" x2="926.00" y2="1115.00" stroke="#000" stroke-width="1.6"/>
<line x1="993.67" y1="1108.00" x2="993.67" y2="1115.00" stroke="#000" stroke-width="1.6"/>
<line x1="1061.34" y1="1108.00" x2="1061.34" y2="1115.00" stroke="#000" stroke-width="1.6"/>
<line x1="1129.01" y1="1108.00" x2="1129.01" y2="1115.00" stroke="#000" stroke-width="1.6"/>
<line x1="1196.68" y1="1108.00" x2="1196.68" y2="1115.00" stroke="#000" stroke-width="1.6"/>
<line x1="1264.35" y1="1108.00" x2="1264.35" y2="1115.00" stroke="#000" stroke-width="1.6"/>
<line x1="1332.02" y1="1108.00" x2="1332.02" y2="1115.00" stroke="#000" stroke-width="1.6"/>
<line x1="1399.69" y1="1108.00" x2="1399.69" y2="1115.00" stroke="#000" stroke-width="1.6"/>
<line x1="1467.36" y1="1108.00" x2="1467.36" y2="1115.00" stroke="#000" stroke-width="1.6"/>
<line x1="1535.03" y1="1108.00" x2="1535.03" y2="1115.00" stroke="#000" stroke-width="1.6"/>
<line x1="861.00" y1="989.00" x2="854.00" y2="989.00" stroke="#000" stroke-width="1.6"/>
<line x1="861.00" y1="821.60" x2="854.00" y2="821.60" stroke="#000" stroke-width="1.6"/>
<line x1="861.00" y1="654.20" x2="854.00" y2="654.20" stroke="#000" stroke-width="1.6"/>
<line x1="861.00" y1="486.80" x2="854.00" y2="486.80" stroke="#000" stroke-width="1.6"/>
<line x1="861.00" y1="319.40" x2="854.00" y2="319.40" stroke="#000" stroke-width="1.6"/>
<line x1="861.00" y1="152.00" x2="854.00" y2="152.00" stroke="#000" stroke-width="1.6"/>
<text x="926.00" y="1141" font-family="Liberation Sans, sans-serif" font-size="23" text-anchor="middle" fill="#000" textLength="13.9" lengthAdjust="spacingAndGlyphs">2</text>
<text x="993.67" y="1141" font-family="Liberation Sans, sans-serif" font-size="23" text-anchor="middle" fill="#000" textLength="13.9" lengthAdjust="spacingAndGlyphs">5</text>
<text x="1061.34" y="1141" font-family="Liberation Sans, sans-serif" font-size="23" text-anchor="middle" fill="#000" textLength="27.8" lengthAdjust="spacingAndGlyphs">10</text>
<text x="1129.01" y="1141" font-family="Liberation Sans, sans-serif" font-size="23" text-anchor="middle" fill="#000" textLength="27.8" lengthAdjust="spacingAndGlyphs">20</text>
<text x="1196.68" y="1141" font-family="Liberation Sans, sans-serif" font-size="23" text-anchor="middle" fill="#000" textLength="27.8" lengthAdjust="spacingAndGlyphs">50</text>
<text x="1264.35" y="1141" font-family="Liberation Sans, sans-serif" font-size="23" text-anchor="middle" fill="#000" textLength="41.7" lengthAdjust="spacingAndGlyphs">100</text>
<text x="1332.02" y="1141" font-family="Liberation Sans, sans-serif" font-size="23" text-anchor="middle" fill="#000" textLength="41.7" lengthAdjust="spacingAndGlyphs">200</text>
<text x="1399.69" y="1141" font-family="Liberation Sans, sans-serif" font-size="23" text-anchor="middle" fill="#000" textLength="41.7" lengthAdjust="spacingAndGlyphs">500</text>
<text x="1467.36" y="1141" font-family="Liberation Sans, sans-serif" font-size="23" text-anchor="middle" fill="#000" textLength="55.6" lengthAdjust="spacingAndGlyphs">1000</text>
<text x="1535.03" y="1141" font-family="Liberation Sans, sans-serif" font-size="23" text-anchor="middle" fill="#000" textLength="55.6" lengthAdjust="spacingAndGlyphs">2000</text>
<text x="1230.47" y="1174.2" font-family="Liberation Sans, sans-serif" font-size="25.5" text-anchor="middle" fill="#000" textLength="284" lengthAdjust="spacingAndGlyphs">Problem Dimension (n)</text>
<clipPath id="c3"><rect x="1630.05" y="106.00" width="738.95" height="1002.00"/></clipPath>
<g clip-path="url(#c3)">
<line x1="1695.05" y1="1108.00" x2="1695.05" y2="106.00" stroke="#e6e6e6" stroke-width="1.7" stroke-dasharray="5.95 2.885"/>
<line x1="1762.72" y1="1108.00" x2="1762.72" y2="106.00" stroke="#e6e6e6" stroke-width="1.7" stroke-dasharray="5.95 2.885"/>
<line x1="1830.39" y1="1108.00" x2="1830.39" y2="106.00" stroke="#e6e6e6" stroke-width="1.7" stroke-dasharray="5.95 2.885"/>
<line x1="1898.06" y1="1108.00" x2="1898.06" y2="106.00" stroke="#e6e6e6" stroke-width="1.7" stroke-dasharray="5.95 2.885"/>
<line x1="1965.73" y1="1108.00" x2="1965.73" y2="106.00" stroke="#e6e6e6" stroke-width="1.7" stroke-dasharray="5.95 2.885"/>
<line x1="2033.40" y1="1108.00" x2="2033.40" y2="106.00" stroke="#e6e6e6" stroke-width="1.7" stroke-dasharray="5.95 2.885"/>
<line x1="2101.07" y1="1108.00" x2="2101.07" y2="106.00" stroke="#e6e6e6" stroke-width="1.7" stroke-dasharray="5.95 2.885"/>
<line x1="2168.74" y1="1108.00" x2="2168.74" y2="106.00" stroke="#e6e6e6" stroke-width="1.7" stroke-dasharray="5.95 2.885"/>
<line x1="2236.41" y1="1108.00" x2="2236.41" y2="106.00" stroke="#e6e6e6" stroke-width="1.7" stroke-dasharray="5.95 2.885"/>
<line x1="2304.08" y1="1108.00" x2="2304.08" y2="106.00" stroke="#e6e6e6" stroke-width="1.7" stroke-dasharray="5.95 2.885"/>
<line x1="1630.05" y1="989.00" x2="2369.00" y2="989.00" stroke="#e6e6e6" stroke-width="1.7" stroke-dasharray="5.95 2.885"/>
<line x1="1630.05" y1="821.60" x2="2369.00" y2="821.60" stroke="#e6e6e6" stroke-width="1.7" stroke-dasharray="5.95 2.885"/>
<line x1="1630.05" y1="654.20" x2="2369.00" y2="654.20" stroke="#e6e6e6" stroke-width="1.7" stroke-dasharray="5.95 2.885"/>
<line x1="1630.05" y1="486.80" x2="2369.00" y2="486.80" stroke="#e6e6e6" stroke-width="1.7" stroke-dasharray="5.95 2.885"/>
<line x1="1630.05" y1="319.40" x2="2369.00" y2="319.40" stroke="#e6e6e6" stroke-width="1.7" stroke-dasharray="5.95 2.885"/>
<line x1="1630.05" y1="152.00" x2="2369.00" y2="152.00" stroke="#e6e6e6" stroke-width="1.7" stroke-dasharray="5.95 2.885"/>
<path d="M1664.50 989.00V434.30M1671.50 989.00V152.10M1677.50 989.00V152.10M1684.50 989.00V152.10M1691.50 989.00V152.10M1698.50 989.00V417.70M1705.50 989.00V380.30M1711.50 989.00V152.10M1718.50 989.00V497.00M1725.50 989.00V152.10M1732.50 989.00V488.70M1738.50 989.00V157.70M1745.50 989.00V687.90M1752.50 989.00V520.50M1759.50 989.00V275.20M1765.50 989.00V213.00M1772.50 989.00V463.80M1779.50 989.00V317.60M1786.50 989.00V197.20M1793.50 989.00V219.90M1799.50 989.00V152.10M1806.50 989.00V152.10M1813.50 989.00V402.50M1820.50 989.00V519.20M1826.50 989.00V269.70M1833.50 989.00V200.50M1840.50 989.00V589.70M1847.50 989.00V492.90M1853.50 989.00V359.60M1860.50 989.00V325.00M1867.50 989.00V381.20M1874.50 989.00V253.70M1881.50 989.00V152.10M1887.50 989.00V492.00M1894.50 989.00V405.20M1901.50 989.00V357.40M1908.50 989.00V532.20M1914.50 989.00V551.50M1921.50 989.00V400.30M1928.50 989.00V539.90M1935.50 989.00V152.10M1941.50 989.00V266.40M1948.50 989.00V752.90M1955.50 989.00V544.10M1962.50 989.00V332.50M1969.50 989.00V602.10M1975.50 989.00V535.20M1982.50 989.00V412.20M1989.50 989.00V822.60M1996.50 989.00V515.00M2002.50 989.00V185.30M2009.50 989.00V266.40M2016.50 989.00V740.50M2023.50 989.00V468.00M2029.50 989.00V769.50M2036.50 989.00V656.90M2043.50 989.00V574.50M2050.50 989.00V494.30M2057.50 989.00V698.40M2063.50 989.00V850.20M2070.50 989.00V308.40M2077.50 989.00V385.00M2084.50 989.00V152.10M2090.50 989.00V469.40M2097.50 989.00V461.10M2104.50 989.00V762.60M2111.50 989.00V570.30M2117.50 989.00V683.20M2124.50 989.00V852.40M2131.50 989.00V845.50M2138.50 989.00V483.20M2145.50 989.00V339.40M2151.50 989.00V820.60M2158.50 989.00V424.10M2165.50 989.00V444.50M2172.50 989.00V825.30M2178.50 989.00V589.10M2185.50 989.00V765.40M2192.50 989.00V836.40M2199.50 989.00V864.60M2206.50 989.00V329.20M2212.50 989.00V628.40M2219.50 989.00V871.00M2226.50 989.00V506.70M2233.50 989.00V456.10M2239.50 989.00V858.00M2246.50 989.00V511.40M2253.50 989.00V748.80M2260.50 989.00V826.20M2266.50 989.00V872.40M2273.50 989.00V445.90M2280.50 989.00V403.30M2287.50 989.00V152.10M2294.50 989.00V405.20M2300.50 989.00V768.90M2307.50 989.00V981.60M2314.50 989.00V539.10M2321.50 989.00V723.00M2327.50 989.00V997.40M2334.50 989.00V910.20" stroke="#696969" stroke-width="3.0" fill="none" stroke-linecap="square"/>
<path d="M1666.50 989.00V531.10M1673.50 989.00V284.90M1679.50 989.00V479.00M1686.50 989.00V575.30M1693.50 989.00V575.30M1700.50 989.00V618.20M1707.50 989.00V562.00M1713.50 989.00V152.10M1720.50 989.00V584.20M1727.50 989.00V152.10M1734.50 989.00V562.00M1740.50 989.00V230.10M1747.50 989.00V690.10M1754.50 989.00V591.10M1761.50 989.00V266.90M1767.50 989.00V206.90M1774.50 989.00V640.00M1781.50 989.00V471.30M1788.50 989.00V217.10M1795.50 989.00V222.10M1801.50 989.00V575.90M1808.50 989.00V273.00M1815.50 989.00V403.30M1822.50 989.00V597.20M1828.50 989.00V307.90M1835.50 989.00V334.70M1842.50 989.00V658.30M1849.50 989.00V553.20M1855.50 989.00V277.20M1862.50 989.00V302.10M1869.50 989.00V578.60M1876.50 989.00V315.90M1883.50 989.00V427.90M1889.50 989.00V651.40M1896.50 989.00V473.00M1903.50 989.00V479.00M1910.50 989.00V631.20M1916.50 989.00V493.70M1923.50 989.00V361.80M1930.50 989.00V507.30M1937.50 989.00V580.00M1943.50 989.00V544.10M1950.50 989.00V759.80M1957.50 989.00V560.10M1964.50 989.00V586.10M1971.50 989.00V764.00M1977.50 989.00V565.60M1984.50 989.00V486.80M1991.50 989.00V813.70M1998.50 989.00V826.70M2004.50 989.00V599.80M2011.50 989.00V716.10M2018.50 989.00V801.30M2025.50 989.00V564.80M2031.50 989.00V692.90M2038.50 989.00V789.40M2045.50 989.00V607.70M2052.50 989.00V551.80M2059.50 989.00V796.30M2065.50 989.00V844.70M2072.50 989.00V601.60M2079.50 989.00V799.00M2086.50 989.00V876.50M2092.50 989.00V503.40M2099.50 989.00V779.70M2106.50 989.00V910.50M2113.50 989.00V614.00M2119.50 989.00V747.40M2126.50 989.00V820.30M2133.50 989.00V857.10M2140.50 989.00V679.60M2147.50 989.00V812.90M2153.50 989.00V856.30M2160.50 989.00V588.90M2167.50 989.00V936.00M2174.50 989.00V863.20M2180.50 989.00V611.80M2187.50 989.00V880.70M2194.50 989.00V833.10M2201.50 989.00V875.10M2208.50 989.00V641.70M2214.50 989.00V914.70M2221.50 989.00V861.30M2228.50 989.00V412.20M2235.50 989.00V864.10M2241.50 989.00V919.40M2248.50 989.00V570.30M2255.50 989.00V880.70M2262.50 989.00V880.70M2268.50 989.00V888.90M2275.50 989.00V652.80M2282.50 989.00V1023.10M2289.50 989.00V872.40M2296.50 989.00V508.60M2302.50 989.00V836.40M2309.50 989.00V971.90M2316.50 989.00V561.50M2323.50 989.00V756.50M2329.50 989.00V882.00M2336.50 989.00V900.00" stroke="#d62728" stroke-width="3.0" fill="none" stroke-linecap="square"/>
<circle cx="1664.50" cy="434.30" r="7.00" fill="#696969"/>
<circle cx="1671.50" cy="152.10" r="7.00" fill="#696969"/>
<circle cx="1677.50" cy="152.10" r="7.00" fill="#696969"/>
<circle cx="1684.50" cy="152.10" r="7.00" fill="#696969"/>
<circle cx="1691.50" cy="152.10" r="7.00" fill="#696969"/>
<circle cx="1698.50" cy="417.70" r="7.00" fill="#696969"/>
<circle cx="1705.50" cy="380.30" r="7.00" fill="#696969"/>
<circle cx="1711.50" cy="152.10" r="7.00" fill="#696969"/>
<circle cx="1718.50" cy="497.00" r="7.00" fill="#696969"/>
<circle cx="1725.50" cy="152.10" r="7.00" fill="#696969"/>
<circle cx="1732.50" cy="488.70" r="7.00" fill="#696969"/>
<circle cx="1738.50" cy="157.70" r="7.00" fill="#696969"/>
<circle cx="1745.50" cy="687.90" r="7.00" fill="#696969"/>
<circle cx="1752.50" cy="520.50" r="7.00" fill="#696969"/>
<circle cx="1759.50" cy="275.20" r="7.00" fill="#696969"/>
<circle cx="1765.50" cy="213.00" r="7.00" fill="#696969"/>
<circle cx="1772.50" cy="463.80" r="7.00" fill="#696969"/>
<circle cx="1779.50" cy="317.60" r="7.00" fill="#696969"/>
<circle cx="1786.50" cy="197.20" r="7.00" fill="#696969"/>
<circle cx="1793.50" cy="219.90" r="7.00" fill="#696969"/>
<circle cx="1799.50" cy="152.10" r="7.00" fill="#696969"/>
<circle cx="1806.50" cy="152.10" r="7.00" fill="#696969"/>
<circle cx="1813.50" cy="402.50" r="7.00" fill="#696969"/>
<circle cx="1820.50" cy="519.20" r="7.00" fill="#696969"/>
<circle cx="1826.50" cy="269.70" r="7.00" fill="#696969"/>
<circle cx="1833.50" cy="200.50" r="7.00" fill="#696969"/>
<circle cx="1840.50" cy="589.70" r="7.00" fill="#696969"/>
<circle cx="1847.50" cy="492.90" r="7.00" fill="#696969"/>
<circle cx="1853.50" cy="359.60" r="7.00" fill="#696969"/>
<circle cx="1860.50" cy="325.00" r="7.00" fill="#696969"/>
<circle cx="1867.50" cy="381.20" r="7.00" fill="#696969"/>
<circle cx="1874.50" cy="253.70" r="7.00" fill="#696969"/>
<circle cx="1881.50" cy="152.10" r="7.00" fill="#696969"/>
<circle cx="1887.50" cy="492.00" r="7.00" fill="#696969"/>
<circle cx="1894.50" cy="405.20" r="7.00" fill="#696969"/>
<circle cx="1901.50" cy="357.40" r="7.00" fill="#696969"/>
<circle cx="1908.50" cy="532.20" r="7.00" fill="#696969"/>
<circle cx="1914.50" cy="551.50" r="7.00" fill="#696969"/>
<circle cx="1921.50" cy="400.30" r="7.00" fill="#696969"/>
<circle cx="1928.50" cy="539.90" r="7.00" fill="#696969"/>
<circle cx="1935.50" cy="152.10" r="7.00" fill="#696969"/>
<circle cx="1941.50" cy="266.40" r="7.00" fill="#696969"/>
<circle cx="1948.50" cy="752.90" r="7.00" fill="#696969"/>
<circle cx="1955.50" cy="544.10" r="7.00" fill="#696969"/>
<circle cx="1962.50" cy="332.50" r="7.00" fill="#696969"/>
<circle cx="1969.50" cy="602.10" r="7.00" fill="#696969"/>
<circle cx="1975.50" cy="535.20" r="7.00" fill="#696969"/>
<circle cx="1982.50" cy="412.20" r="7.00" fill="#696969"/>
<circle cx="1989.50" cy="822.60" r="7.00" fill="#696969"/>
<circle cx="1996.50" cy="515.00" r="7.00" fill="#696969"/>
<circle cx="2002.50" cy="185.30" r="7.00" fill="#696969"/>
<circle cx="2009.50" cy="266.40" r="7.00" fill="#696969"/>
<circle cx="2016.50" cy="740.50" r="7.00" fill="#696969"/>
<circle cx="2023.50" cy="468.00" r="7.00" fill="#696969"/>
<circle cx="2029.50" cy="769.50" r="7.00" fill="#696969"/>
<circle cx="2036.50" cy="656.90" r="7.00" fill="#696969"/>
<circle cx="2043.50" cy="574.50" r="7.00" fill="#696969"/>
<circle cx="2050.50" cy="494.30" r="7.00" fill="#696969"/>
<circle cx="2057.50" cy="698.40" r="7.00" fill="#696969"/>
<circle cx="2063.50" cy="850.20" r="7.00" fill="#696969"/>
<circle cx="2070.50" cy="308.40" r="7.00" fill="#696969"/>
<circle cx="2077.50" cy="385.00" r="7.00" fill="#696969"/>
<circle cx="2084.50" cy="152.10" r="7.00" fill="#696969"/>
<circle cx="2090.50" cy="469.40" r="7.00" fill="#696969"/>
<circle cx="2097.50" cy="461.10" r="7.00" fill="#696969"/>
<circle cx="2104.50" cy="762.60" r="7.00" fill="#696969"/>
<circle cx="2111.50" cy="570.30" r="7.00" fill="#696969"/>
<circle cx="2117.50" cy="683.20" r="7.00" fill="#696969"/>
<circle cx="2124.50" cy="852.40" r="7.00" fill="#696969"/>
<circle cx="2131.50" cy="845.50" r="7.00" fill="#696969"/>
<circle cx="2138.50" cy="483.20" r="7.00" fill="#696969"/>
<circle cx="2145.50" cy="339.40" r="7.00" fill="#696969"/>
<circle cx="2151.50" cy="820.60" r="7.00" fill="#696969"/>
<circle cx="2158.50" cy="424.10" r="7.00" fill="#696969"/>
<circle cx="2165.50" cy="444.50" r="7.00" fill="#696969"/>
<circle cx="2172.50" cy="825.30" r="7.00" fill="#696969"/>
<circle cx="2178.50" cy="589.10" r="7.00" fill="#696969"/>
<circle cx="2185.50" cy="765.40" r="7.00" fill="#696969"/>
<circle cx="2192.50" cy="836.40" r="7.00" fill="#696969"/>
<circle cx="2199.50" cy="864.60" r="7.00" fill="#696969"/>
<circle cx="2206.50" cy="329.20" r="7.00" fill="#696969"/>
<circle cx="2212.50" cy="628.40" r="7.00" fill="#696969"/>
<circle cx="2219.50" cy="871.00" r="7.00" fill="#696969"/>
<circle cx="2226.50" cy="506.70" r="7.00" fill="#696969"/>
<circle cx="2233.50" cy="456.10" r="7.00" fill="#696969"/>
<circle cx="2239.50" cy="858.00" r="7.00" fill="#696969"/>
<circle cx="2246.50" cy="511.40" r="7.00" fill="#696969"/>
<circle cx="2253.50" cy="748.80" r="7.00" fill="#696969"/>
<circle cx="2260.50" cy="826.20" r="7.00" fill="#696969"/>
<circle cx="2266.50" cy="872.40" r="7.00" fill="#696969"/>
<circle cx="2273.50" cy="445.90" r="7.00" fill="#696969"/>
<circle cx="2280.50" cy="403.30" r="7.00" fill="#696969"/>
<circle cx="2287.50" cy="152.10" r="7.00" fill="#696969"/>
<circle cx="2294.50" cy="405.20" r="7.00" fill="#696969"/>
<circle cx="2300.50" cy="768.90" r="7.00" fill="#696969"/>
<circle cx="2307.50" cy="981.60" r="7.00" fill="#696969"/>
<circle cx="2314.50" cy="539.10" r="7.00" fill="#696969"/>
<circle cx="2321.50" cy="723.00" r="7.00" fill="#696969"/>
<circle cx="2327.50" cy="997.40" r="7.00" fill="#696969"/>
<circle cx="2334.50" cy="910.20" r="7.00" fill="#696969"/>
<path d="M1666.00 538.00L1673.80 524.50L1658.20 524.50Z" fill="#d62728"/>
<path d="M1673.00 291.80L1680.80 278.30L1665.20 278.30Z" fill="#d62728"/>
<path d="M1679.00 485.90L1686.80 472.40L1671.20 472.40Z" fill="#d62728"/>
<path d="M1686.00 582.20L1693.80 568.70L1678.20 568.70Z" fill="#d62728"/>
<path d="M1693.00 582.20L1700.80 568.70L1685.20 568.70Z" fill="#d62728"/>
<path d="M1700.00 625.10L1707.80 611.60L1692.20 611.60Z" fill="#d62728"/>
<path d="M1707.00 568.90L1714.80 555.40L1699.20 555.40Z" fill="#d62728"/>
<path d="M1713.00 159.00L1720.80 145.50L1705.20 145.50Z" fill="#d62728"/>
<path d="M1720.00 591.10L1727.80 577.60L1712.20 577.60Z" fill="#d62728"/>
<path d="M1727.00 159.00L1734.80 145.50L1719.20 145.50Z" fill="#d62728"/>
<path d="M1734.00 568.90L1741.80 555.40L1726.20 555.40Z" fill="#d62728"/>
<path d="M1740.00 237.00L1747.80 223.50L1732.20 223.50Z" fill="#d62728"/>
<path d="M1747.00 697.00L1754.80 683.50L1739.20 683.50Z" fill="#d62728"/>
<path d="M1754.00 598.00L1761.80 584.50L1746.20 584.50Z" fill="#d62728"/>
<path d="M1761.00 273.80L1768.80 260.30L1753.20 260.30Z" fill="#d62728"/>
<path d="M1767.00 213.80L1774.80 200.30L1759.20 200.30Z" fill="#d62728"/>
<path d="M1774.00 646.90L1781.80 633.40L1766.20 633.40Z" fill="#d62728"/>
<path d="M1781.00 478.20L1788.80 464.70L1773.20 464.70Z" fill="#d62728"/>
<path d="M1788.00 224.00L1795.80 210.50L1780.20 210.50Z" fill="#d62728"/>
<path d="M1795.00 229.00L1802.80 215.50L1787.20 215.50Z" fill="#d62728"/>
<path d="M1801.00 582.80L1808.80 569.30L1793.20 569.30Z" fill="#d62728"/>
<path d="M1808.00 279.90L1815.80 266.40L1800.20 266.40Z" fill="#d62728"/>
<path d="M1815.00 410.20L1822.80 396.70L1807.20 396.70Z" fill="#d62728"/>
<path d="M1822.00 604.10L1829.80 590.60L1814.20 590.60Z" fill="#d62728"/>
<path d="M1828.00 314.80L1835.80 301.30L1820.20 301.30Z" fill="#d62728"/>
<path d="M1835.00 341.60L1842.80 328.10L1827.20 328.10Z" fill="#d62728"/>
<path d="M1842.00 665.20L1849.80 651.70L1834.20 651.70Z" fill="#d62728"/>
<path d="M1849.00 560.10L1856.80 546.60L1841.20 546.60Z" fill="#d62728"/>
<path d="M1855.00 284.10L1862.80 270.60L1847.20 270.60Z" fill="#d62728"/>
<path d="M1862.00 309.00L1869.80 295.50L1854.20 295.50Z" fill="#d62728"/>
<path d="M1869.00 585.50L1876.80 572.00L1861.20 572.00Z" fill="#d62728"/>
<path d="M1876.00 322.80L1883.80 309.30L1868.20 309.30Z" fill="#d62728"/>
<path d="M1883.00 434.80L1890.80 421.30L1875.20 421.30Z" fill="#d62728"/>
<path d="M1889.00 658.30L1896.80 644.80L1881.20 644.80Z" fill="#d62728"/>
<path d="M1896.00 479.90L1903.80 466.40L1888.20 466.40Z" fill="#d62728"/>
<path d="M1903.00 485.90L1910.80 472.40L1895.20 472.40Z" fill="#d62728"/>
<path d="M1910.00 638.10L1917.80 624.60L1902.20 624.60Z" fill="#d62728"/>
<path d="M1916.00 500.60L1923.80 487.10L1908.20 487.10Z" fill="#d62728"/>
<path d="M1923.00 368.70L1930.80 355.20L1915.20 355.20Z" fill="#d62728"/>
<path d="M1930.00 514.20L1937.80 500.70L1922.20 500.70Z" fill="#d62728"/>
<path d="M1937.00 586.90L1944.80 573.40L1929.20 573.40Z" fill="#d62728"/>
<path d="M1943.00 551.00L1950.80 537.50L1935.20 537.50Z" fill="#d62728"/>
<path d="M1950.00 766.70L1957.80 753.20L1942.20 753.20Z" fill="#d62728"/>
<path d="M1957.00 567.00L1964.80 553.50L1949.20 553.50Z" fill="#d62728"/>
<path d="M1964.00 593.00L1971.80 579.50L1956.20 579.50Z" fill="#d62728"/>
<path d="M1971.00 770.90L1978.80 757.40L1963.20 757.40Z" fill="#d62728"/>
<path d="M1977.00 572.50L1984.80 559.00L1969.20 559.00Z" fill="#d62728"/>
<path d="M1984.00 493.70L1991.80 480.20L1976.20 480.20Z" fill="#d62728"/>
<path d="M1991.00 820.60L1998.80 807.10L1983.20 807.10Z" fill="#d62728"/>
<path d="M1998.00 833.60L2005.80 820.10L1990.20 820.10Z" fill="#d62728"/>
<path d="M2004.00 606.70L2011.80 593.20L1996.20 593.20Z" fill="#d62728"/>
<path d="M2011.00 723.00L2018.80 709.50L2003.20 709.50Z" fill="#d62728"/>
<path d="M2018.00 808.20L2025.80 794.70L2010.20 794.70Z" fill="#d62728"/>
<path d="M2025.00 571.70L2032.80 558.20L2017.20 558.20Z" fill="#d62728"/>
<path d="M2031.00 699.80L2038.80 686.30L2023.20 686.30Z" fill="#d62728"/>
<path d="M2038.00 796.30L2045.80 782.80L2030.20 782.80Z" fill="#d62728"/>
<path d="M2045.00 614.60L2052.80 601.10L2037.20 601.10Z" fill="#d62728"/>
<path d="M2052.00 558.70L2059.80 545.20L2044.20 545.20Z" fill="#d62728"/>
<path d="M2059.00 803.20L2066.80 789.70L2051.20 789.70Z" fill="#d62728"/>
<path d="M2065.00 851.60L2072.80 838.10L2057.20 838.10Z" fill="#d62728"/>
<path d="M2072.00 608.50L2079.80 595.00L2064.20 595.00Z" fill="#d62728"/>
<path d="M2079.00 805.90L2086.80 792.40L2071.20 792.40Z" fill="#d62728"/>
<path d="M2086.00 883.40L2093.80 869.90L2078.20 869.90Z" fill="#d62728"/>
<path d="M2092.00 510.30L2099.80 496.80L2084.20 496.80Z" fill="#d62728"/>
<path d="M2099.00 786.60L2106.80 773.10L2091.20 773.10Z" fill="#d62728"/>
<path d="M2106.00 917.40L2113.80 903.90L2098.20 903.90Z" fill="#d62728"/>
<path d="M2113.00 620.90L2120.80 607.40L2105.20 607.40Z" fill="#d62728"/>
<path d="M2119.00 754.30L2126.80 740.80L2111.20 740.80Z" fill="#d62728"/>
<path d="M2126.00 827.20L2133.80 813.70L2118.20 813.70Z" fill="#d62728"/>
<path d="M2133.00 864.00L2140.80 850.50L2125.20 850.50Z" fill="#d62728"/>
<path d="M2140.00 686.50L2147.80 673.00L2132.20 673.00Z" fill="#d62728"/>
<path d="M2147.00 819.80L2154.80 806.30L2139.20 806.30Z" fill="#d62728"/>
<path d="M2153.00 863.20L2160.80 849.70L2145.20 849.70Z" fill="#d62728"/>
<path d="M2160.00 595.80L2167.80 582.30L2152.20 582.30Z" fill="#d62728"/>
<path d="M2167.00 942.90L2174.80 929.40L2159.20 929.40Z" fill="#d62728"/>
<path d="M2174.00 870.10L2181.80 856.60L2166.20 856.60Z" fill="#d62728"/>
<path d="M2180.00 618.70L2187.80 605.20L2172.20 605.20Z" fill="#d62728"/>
<path d="M2187.00 887.60L2194.80 874.10L2179.20 874.10Z" fill="#d62728"/>
<path d="M2194.00 840.00L2201.80 826.50L2186.20 826.50Z" fill="#d62728"/>
<path d="M2201.00 882.00L2208.80 868.50L2193.20 868.50Z" fill="#d62728"/>
<path d="M2208.00 648.60L2215.80 635.10L2200.20 635.10Z" fill="#d62728"/>
<path d="M2214.00 921.60L2221.80 908.10L2206.20 908.10Z" fill="#d62728"/>
<path d="M2221.00 868.20L2228.80 854.70L2213.20 854.70Z" fill="#d62728"/>
<path d="M2228.00 419.10L2235.80 405.60L2220.20 405.60Z" fill="#d62728"/>
<path d="M2235.00 871.00L2242.80 857.50L2227.20 857.50Z" fill="#d62728"/>
<path d="M2241.00 926.30L2248.80 912.80L2233.20 912.80Z" fill="#d62728"/>
<path d="M2248.00 577.20L2255.80 563.70L2240.20 563.70Z" fill="#d62728"/>
<path d="M2255.00 887.60L2262.80 874.10L2247.20 874.10Z" fill="#d62728"/>
<path d="M2262.00 887.60L2269.80 874.10L2254.20 874.10Z" fill="#d62728"/>
<path d="M2268.00 895.80L2275.80 882.30L2260.20 882.30Z" fill="#d62728"/>
<path d="M2275.00 659.70L2282.80 646.20L2267.20 646.20Z" fill="#d62728"/>
<path d="M2282.00 1030.00L2289.80 1016.50L2274.20 1016.50Z" fill="#d62728"/>
<path d="M2289.00 879.30L2296.80 865.80L2281.20 865.80Z" fill="#d62728"/>
<path d="M2296.00 515.50L2303.80 502.00L2288.20 502.00Z" fill="#d62728"/>
<path d="M2302.00 843.30L2309.80 829.80L2294.20 829.80Z" fill="#d62728"/>
<path d="M2309.00 978.80L2316.80 965.30L2301.20 965.30Z" fill="#d62728"/>
<path d="M2316.00 568.40L2323.80 554.90L2308.20 554.90Z" fill="#d62728"/>
<path d="M2323.00 763.40L2330.80 749.90L2315.20 749.90Z" fill="#d62728"/>
<path d="M2329.00 888.90L2336.80 875.40L2321.20 875.40Z" fill="#d62728"/>
<path d="M2336.00 906.90L2343.80 893.40L2328.20 893.40Z" fill="#d62728"/>
</g>
<rect x="1630.05" y="106.00" width="738.95" height="1002.00" fill="none" stroke="#000" stroke-width="1.6"/>
<line x1="1695.05" y1="1108.00" x2="1695.05" y2="1115.00" stroke="#000" stroke-width="1.6"/>
<line x1="1762.72" y1="1108.00" x2="1762.72" y2="1115.00" stroke="#000" stroke-width="1.6"/>
<line x1="1830.39" y1="1108.00" x2="1830.39" y2="1115.00" stroke="#000" stroke-width="1.6"/>
<line x1="1898.06" y1="1108.00" x2="1898.06" y2="1115.00" stroke="#000" stroke-width="1.6"/>
<line x1="1965.73" y1="1108.00" x2="1965.73" y2="1115.00" stroke="#000" stroke-width="1.6"/>
<line x1="2033.40" y1="1108.00" x2="2033.40" y2="1115.00" stroke="#000" stroke-width="1.6"/>
<line x1="2101.07" y1="1108.00" x2="2101.07" y2="1115.00" stroke="#000" stroke-width="1.6"/>
<line x1="2168.74" y1="1108.00" x2="2168.74" y2="1115.00" stroke="#000" stroke-width="1.6"/>
<line x1="2236.41" y1="1108.00" x2="2236.41" y2="1115.00" stroke="#000" stroke-width="1.6"/>
<line x1="2304.08" y1="1108.00" x2="2304.08" y2="1115.00" stroke="#000" stroke-width="1.6"/>
<line x1="1630.05" y1="989.00" x2="1623.05" y2="989.00" stroke="#000" stroke-width="1.6"/>
<line x1="1630.05" y1="821.60" x2="1623.05" y2="821.60" stroke="#000" stroke-width="1.6"/>
<line x1="1630.05" y1="654.20" x2="1623.05" y2="654.20" stroke="#000" stroke-width="1.6"/>
<line x1="1630.05" y1="486.80" x2="1623.05" y2="486.80" stroke="#000" stroke-width="1.6"/>
<line x1="1630.05" y1="319.40" x2="1623.05" y2="319.40" stroke="#000" stroke-width="1.6"/>
<line x1="1630.05" y1="152.00" x2="1623.05" y2="152.00" stroke="#000" stroke-width="1.6"/>
<text x="1695.05" y="1141" font-family="Liberation Sans, sans-serif" font-size="23" text-anchor="middle" fill="#000" textLength="13.9" lengthAdjust="spacingAndGlyphs">2</text>
<text x="1762.72" y="1141" font-family="Liberation Sans, sans-serif" font-size="23" text-anchor="middle" fill="#000" textLength="13.9" lengthAdjust="spacingAndGlyphs">5</text>
<text x="1830.39" y="1141" font-family="Liberation Sans, sans-serif" font-size="23" text-anchor="middle" fill="#000" textLength="27.8" lengthAdjust="spacingAndGlyphs">10</text>
<text x="1898.06" y="1141" font-family="Liberation Sans, sans-serif" font-size="23" text-anchor="middle" fill="#000" textLength="27.8" lengthAdjust="spacingAndGlyphs">20</text>
<text x="1965.73" y="1141" font-family="Liberation Sans, sans-serif" font-size="23" text-anchor="middle" fill="#000" textLength="27.8" lengthAdjust="spacingAndGlyphs">50</text>
<text x="2033.40" y="1141" font-family="Liberation Sans, sans-serif" font-size="23" text-anchor="middle" fill="#000" textLength="41.7" lengthAdjust="spacingAndGlyphs">100</text>
<text x="2101.07" y="1141" font-family="Liberation Sans, sans-serif" font-size="23" text-anchor="middle" fill="#000" textLength="41.7" lengthAdjust="spacingAndGlyphs">200</text>
<text x="2168.74" y="1141" font-family="Liberation Sans, sans-serif" font-size="23" text-anchor="middle" fill="#000" textLength="41.7" lengthAdjust="spacingAndGlyphs">500</text>
<text x="2236.41" y="1141" font-family="Liberation Sans, sans-serif" font-size="23" text-anchor="middle" fill="#000" textLength="55.6" lengthAdjust="spacingAndGlyphs">1000</text>
<text x="2304.08" y="1141" font-family="Liberation Sans, sans-serif" font-size="23" text-anchor="middle" fill="#000" textLength="55.6" lengthAdjust="spacingAndGlyphs">2000</text>
<text x="1999.53" y="1174.2" font-family="Liberation Sans, sans-serif" font-size="25.5" text-anchor="middle" fill="#000" textLength="284" lengthAdjust="spacingAndGlyphs">Problem Dimension (n)</text>
<text x="77" y="997.80" font-family="Liberation Sans, sans-serif" font-size="23" text-anchor="end" fill="#000" textLength="13.9" lengthAdjust="spacingAndGlyphs">0</text>
<text x="77" y="830.40" font-family="Liberation Sans, sans-serif" font-size="23" text-anchor="end" fill="#000" textLength="13.9" lengthAdjust="spacingAndGlyphs">2</text>
<text x="77" y="663.00" font-family="Liberation Sans, sans-serif" font-size="23" text-anchor="end" fill="#000" textLength="13.9" lengthAdjust="spacingAndGlyphs">4</text>
<text x="77" y="495.60" font-family="Liberation Sans, sans-serif" font-size="23" text-anchor="end" fill="#000" textLength="13.9" lengthAdjust="spacingAndGlyphs">6</text>
<text x="77" y="328.20" font-family="Liberation Sans, sans-serif" font-size="23" text-anchor="end" fill="#000" textLength="13.9" lengthAdjust="spacingAndGlyphs">8</text>
<text x="77" y="160.80" font-family="Liberation Sans, sans-serif" font-size="23" text-anchor="end" fill="#000" textLength="27.8" lengthAdjust="spacingAndGlyphs">10</text>
<text x="0" y="0" transform="translate(32.7 609.3) rotate(-90)" font-family="Liberation Sans, sans-serif" font-size="25.5" text-anchor="middle" fill="#000" textLength="192.8" lengthAdjust="spacingAndGlyphs">-log₁₀(f - f_best)</text>
<rect x="314" y="15" width="1756" height="51.9" rx="5.5" ry="5.5" fill="#fff" stroke="#cccccc" stroke-width="1.9"/>
<line x1="324.0" y1="38.4" x2="386.0" y2="38.4" stroke="#696969" stroke-width="3"/>
<circle cx="355.00" cy="38.40" r="9.25" fill="#696969"/>
<text x="408.2" y="49.2" font-family="Liberation Sans, sans-serif" font-size="30.2" fill="#000" textLength="192.2" lengthAdjust="spacingAndGlyphs">InexactLMBM</text>
<line x1="657.9" y1="38.4" x2="719.1" y2="38.4" stroke="#ff7f0e" stroke-width="3"/>
<rect x="679.25" y="29.15" width="18.50" height="18.50" fill="#ff7f0e"/>
<text x="740.6" y="49.2" font-family="Liberation Sans, sans-serif" font-size="30.2" fill="#000" textLength="325.8" lengthAdjust="spacingAndGlyphs">InexactLMBM_N4_0.01</text>
<line x1="1125.9" y1="38.4" x2="1187.0" y2="38.4" stroke="#2ca02c" stroke-width="3"/>
<path d="M1156.45 29.28L1166.75 47.12L1146.15 47.12Z" fill="#2ca02c"/>
<text x="1208.9" y="49.2" font-family="Liberation Sans, sans-serif" font-size="30.2" fill="#000" textLength="344.6" lengthAdjust="spacingAndGlyphs">InexactLMBM_N4_0.001</text>
<line x1="1612.1" y1="38.4" x2="1673.0" y2="38.4" stroke="#d62728" stroke-width="3"/>
<path d="M1642.55 47.52L1652.85 29.68L1632.25 29.68Z" fill="#d62728"/>
<text x="1694.4" y="49.2" font-family="Liberation Sans, sans-serif" font-size="30.2" fill="#000" textLength="363.4" lengthAdjust="spacingAndGlyphs">InexactLMBM_N4_0.0001</text>
</svg></body></html>
